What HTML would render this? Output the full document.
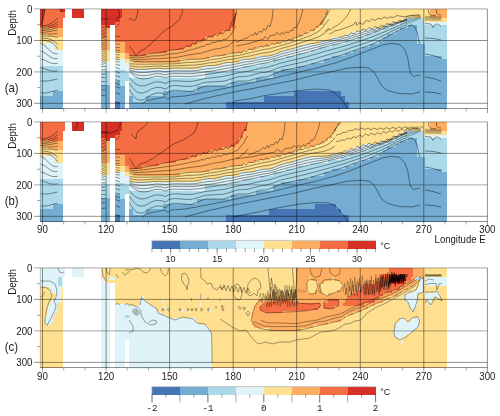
<!DOCTYPE html>
<html lang="en"><head><meta charset="utf-8"><title>Temperature sections</title>
<style>html,body{margin:0;padding:0;background:#fff}svg{display:block}</style></head>
<body>
<svg width="500" height="416" viewBox="0 0 500 416" font-family="'Liberation Sans', sans-serif" font-size="9.7" fill="#1a1a1a">
<rect width="500" height="416" fill="#fff"/>
<g shape-rendering="crispEdges">
<rect x="129" y="9" width="317.6" height="99.5" fill="#f46d43"/>
<path d="M129 108.5V56.2H145.9V53H167.1V49.9H184V46.7H192.4V43.6H196.7V40.5H205.1V37.3H213.6V34.2H222.1V31H230.5V27.9H234.7V9H446.6V108.5Z" fill="#fdae61"/>
<path d="M129 108.5V59.3H133.2V62.5H179.8V59.3H209.4V56.2H226.3V53H243.2V49.9H255.9V46.7H268.6V43.6H281.3V40.5H294V37.3H302.4V34.2H306.7V31H315.1V27.9H319.3V24.7H323.6V15.3H327.8V9H446.6V108.5Z" fill="#fee090"/>
<path d="M129 108.5V68.8H200.9V65.6H222.1V62.5H239V59.3H255.9V56.2H272.8V53H281.3V49.9H294V46.7H302.4V43.6H319.3V40.5H332V37.3H344.7V34.2H353.2V31H365.9V27.9H382.8V24.7H391.3V21.6H403.9V18.4H446.6V108.5Z" fill="#e0f3f8"/>
<path d="M129 108.5V77.5H205.1V72.3H230.5V68.8H243.2V65.6H260.1V62.5H272.8V59.3H285.5V56.2H298.2V53H310.9V49.9H319.3V46.7H332V43.6H344.7V40.5H357.4V37.3H365.9V34.2H374.3V31H382.8V27.9H391.3V24.7H399.7V21.6H403.9V18.4H446.6V108.5Z" fill="#abd9e9"/>
<path d="M129 108.5V96H133.2V101.5H145.9V96H162.8V91H196.7V86H230.5V81.5H255.9V77.5H272.8V72.3H281.3V68.8H298.2V65.6H310.9V62.5H323.6V59.3H332V56.2H344.7V53H353.2V49.9H361.6V46.7H370.1V43.6H378.6V40.5H382.8V37.3H387V34.2H395.5V31H399.7V27.9H408.2V24.7H416.6V43.6H425.1V56.2H442V59.3H446.6V108.5Z" fill="#74add1"/>
<path d="M129 108.5V108.5H226.3V101.5H264.4V96H294V91H340.5V96H344.7V101.5H349V108.5H446.6V108.5Z" fill="#4575b4"/>
<rect x="424" y="9" width="22.6" height="9.4" fill="#fee090"/>
<rect x="430" y="9" width="16.6" height="9.4" fill="#fdae61"/>
<rect x="424" y="18.4" width="22.6" height="3.2" fill="#fee090"/>
<rect x="424" y="21.6" width="22.6" height="2.9" fill="#e0f3f8"/>
<rect x="40.4" y="9" width="7.6" height="18.4" fill="#f46d43"/>
<rect x="40.4" y="27.4" width="7.6" height="6.8" fill="#fdae61"/>
<rect x="40.4" y="34.2" width="7.6" height="8.3" fill="#fee090"/>
<rect x="40.4" y="42.5" width="7.6" height="23.5" fill="#e0f3f8"/>
<rect x="40.4" y="66" width="7.6" height="29.7" fill="#abd9e9"/>
<rect x="40.4" y="95.7" width="7.6" height="12.8" fill="#74add1"/>
<rect x="48" y="9" width="5.3" height="18.9" fill="#f46d43"/>
<rect x="48" y="27.9" width="5.3" height="7.6" fill="#fdae61"/>
<rect x="48" y="35.5" width="5.3" height="7" fill="#fee090"/>
<rect x="48" y="42.5" width="5.3" height="23.5" fill="#e0f3f8"/>
<rect x="48" y="66" width="5.3" height="29.7" fill="#abd9e9"/>
<rect x="48" y="95.7" width="5.3" height="12.8" fill="#74add1"/>
<rect x="53.3" y="9" width="1.9" height="18.9" fill="#f46d43"/>
<rect x="53.3" y="27.9" width="1.9" height="7.6" fill="#fdae61"/>
<rect x="53.3" y="35.5" width="1.9" height="7" fill="#fee090"/>
<rect x="53.3" y="42.5" width="1.9" height="23.5" fill="#e0f3f8"/>
<rect x="53.3" y="66" width="1.9" height="24.7" fill="#abd9e9"/>
<rect x="53.3" y="90.7" width="1.9" height="17.8" fill="#74add1"/>
<rect x="55.2" y="9" width="7.4" height="18.7" fill="#f46d43"/>
<rect x="55.2" y="27.7" width="7.4" height="9.1" fill="#fdae61"/>
<rect x="55.2" y="36.8" width="7.4" height="12.9" fill="#fee090"/>
<rect x="55.2" y="49.7" width="7.4" height="16.3" fill="#e0f3f8"/>
<rect x="55.2" y="66" width="7.4" height="24.7" fill="#abd9e9"/>
<rect x="55.2" y="90.7" width="7.4" height="17.8" fill="#74add1"/>
<rect x="62.6" y="9" width="2.3" height="9.3" fill="#f46d43"/>
<rect x="59.7" y="9" width="5.2" height="3" fill="#d73027"/>
<path d="M40.4 9H45.8L43.4 17L42.2 25L40.4 28Z" fill="#d73027" shape-rendering="auto"/>
<rect x="72" y="9" width="12" height="9.4" fill="#d73027"/>
<rect x="100.7" y="9" width="5.3" height="15.5" fill="#d73027"/>
<rect x="100.7" y="24.5" width="5.3" height="12.5" fill="#f46d43"/>
<rect x="100.7" y="37" width="5.3" height="13" fill="#fdae61"/>
<rect x="100.7" y="50" width="5.3" height="11.8" fill="#fee090"/>
<rect x="100.7" y="61.8" width="5.3" height="9.4" fill="#e0f3f8"/>
<rect x="100.7" y="71.2" width="5.3" height="13.8" fill="#abd9e9"/>
<rect x="100.7" y="85" width="5.3" height="23.5" fill="#74add1"/>
<rect x="106" y="9" width="4.2" height="18.7" fill="#d73027"/>
<rect x="106" y="27.7" width="4.2" height="22.3" fill="#fdae61"/>
<rect x="106" y="50" width="4.2" height="11.8" fill="#fee090"/>
<rect x="106" y="61.8" width="4.2" height="9.4" fill="#e0f3f8"/>
<rect x="106" y="71.2" width="4.2" height="13.8" fill="#abd9e9"/>
<rect x="106" y="85" width="4.2" height="23.5" fill="#74add1"/>
<rect x="110.2" y="9" width="4.8" height="15.7" fill="#d73027"/>
<rect x="115" y="9" width="4.5" height="12.6" fill="#d73027"/>
<rect x="115" y="21.6" width="4.5" height="20.4" fill="#f46d43"/>
<rect x="115" y="42" width="4.5" height="10" fill="#fdae61"/>
<rect x="115" y="52" width="4.5" height="8" fill="#fee090"/>
<rect x="115" y="60" width="4.5" height="10" fill="#e0f3f8"/>
<rect x="115" y="70" width="4.5" height="11" fill="#abd9e9"/>
<rect x="115" y="81" width="4.5" height="21" fill="#74add1"/>
<rect x="115" y="102" width="4.5" height="6.5" fill="#4575b4"/>
<rect x="119.5" y="9" width="2.5" height="9.4" fill="#d73027"/>
<rect x="119.5" y="18.4" width="2.5" height="23.6" fill="#f46d43"/>
<rect x="119.5" y="42" width="2.5" height="10.5" fill="#fdae61"/>
<rect x="119.5" y="52.5" width="2.5" height="6.5" fill="#fee090"/>
<rect x="119.5" y="59" width="2.5" height="11" fill="#e0f3f8"/>
<rect x="119.5" y="70" width="2.5" height="16" fill="#abd9e9"/>
<rect x="119.5" y="86" width="2.5" height="22.5" fill="#74add1"/>
<rect x="122" y="9" width="2.5" height="33" fill="#f46d43"/>
<rect x="122" y="42" width="2.5" height="10.5" fill="#fdae61"/>
<rect x="122" y="52.5" width="2.5" height="6.5" fill="#fee090"/>
<rect x="122" y="59" width="2.5" height="11" fill="#e0f3f8"/>
<rect x="122" y="70" width="2.5" height="16" fill="#abd9e9"/>
<rect x="122" y="86" width="2.5" height="22.5" fill="#74add1"/>
<rect x="120" y="9" width="2" height="9.4" fill="#d73027"/>
<rect x="124.5" y="9" width="4.5" height="43.5" fill="#f46d43"/>
<rect x="124.5" y="52.5" width="4.5" height="6.5" fill="#fdae61"/>
<rect x="124.5" y="59" width="4.5" height="3.5" fill="#fee090"/>
<rect x="124.5" y="62.5" width="4.5" height="9.5" fill="#e0f3f8"/>
<rect x="124.5" y="72" width="4.5" height="9" fill="#abd9e9"/>
</g>
<g fill="none" stroke="#000" stroke-width=".5" stroke-opacity=".85" stroke-linejoin="round">
<path d="M129.5 55.7L131 55.8L132.5 55.9L134 55.9L135.5 56L137 56L138.5 56.1L140 55.9L141.5 55.6L143 55.2L144.5 54.9L146 54.5L147.5 54.2L149 53.8L150.5 53.5L152 53.2L153.5 53L155 53L156.5 53L158 53L159.5 52.7L161 52.4L162.5 52.1L164 51.7L165.5 51.4L167 51L168.5 50.7L170 50.3L171.5 50L173 49.9L174.5 49.9L176 49.7L177.5 49.4L179 49.1L180.5 48.5L182 48.2L183.5 48.3L185 47.5L186.5 46L188 46L189.5 46.5L191 45L192.5 43.5L194 44.3L195.5 44.1L197 41.9L198.5 41.3L200 42.2L201.5 41.2L203 39L204.5 38.9L206 39.8L207.5 38.1L209 36.1L210.5 36.9L212 37.4L213.5 35.3L215 34.2L216.5 35.3L218 35.2L219.5 33.2L221 32.8L222.5 33.8L224 32.8L225.5 30.5L227 30.5L228.5 30.7L230 27.1L231.5 22.2L233 20.1L234.5 17.6L236 12.7L233 26L235 20L236.8 9.2"/>
<path d="M129.5 57.4L131 57.5L132.5 57.6L134 57.7L135.5 57.8L137 57.9L138.5 57.9L140 57.9L141.5 57.6L143 57.4L144.5 57.2L146 56.9L147.5 56.7L149 56.5L150.5 56.2L152 56L153.5 55.9L155 55.9L156.5 55.9L158 55.9L159.5 55.7L161 55.5L162.5 55.2L164 55L165.5 54.8L167 54.5L168.5 54.3L170 54.1L171.5 53.8L173 53.8L174.5 53.7L176 53.6L177.5 53.3L179 52.9L180.5 52.6L182 52.3L183.5 52L185 51.6L186.5 51L188 50.5L189.5 50.1L191 49.9L192.5 49.5L194 49L195.5 48.4L197 48L198.5 48L200 47.3L201.5 46.4L203 46.3L204.5 46.1L206 44.9L207.5 44.1L209 44.4L210.5 44L212 42.5L213.5 42.2L215 42.7L216.5 42.1L218 40.9L219.5 41.2L221 41.6L222.5 40.3L224 39.2L225.5 39.4L227 39.1L228.5 37.3L230 35.4L231.5 33.8L233 31.3L234.5 28.1L236 26.1"/>
<path d="M129.5 59L131 59.1L132.5 59.3L134 59.4L135.5 59.6L137 59.7L138.5 59.8L140 59.8L141.5 59.7L143 59.6L144.5 59.4L146 59.3L147.5 59.2L149 59.1L150.5 59L152 58.8L153.5 58.8L155 58.8L156.5 58.8L158 58.8L159.5 58.7L161 58.5L162.5 58.4L164 58.3L165.5 58.2L167 58L168.5 57.9L170 57.8L171.5 57.7L173 57.6L174.5 57.6L176 57.4L177.5 57.1L179 56.9L180.5 56.6L182 56.3L183.5 56L185 55.7L186.5 55.4L188 55L189.5 54.7L191 54.6L192.5 54.4L194 54.1L195.5 53.9L197 53.6L198.5 53.4L200 53.3L201.5 53L203 52.5L204.5 52L206 51.6L207.5 51.2L209 50.7L210.5 50.3L212 49.8L213.5 49.4L215 49.1L216.5 48.9L218 48.8L219.5 48.5L221 48.1L222.5 47.7L224 47.3L225.5 46.9L227 46.4L228.5 45.8L230 44.6L231.5 43.1L233 42.2L234.5 41L236 39.3"/>
<path d="M129.5 60.6L131 60.8L132.5 61L134 61.2L135.5 61.4L137 61.5L138.5 61.7L140 61.7L141.5 61.8L143 61.7L144.5 61.7L146 61.7L147.5 61.7L149 61.7L150.5 61.7L152 61.7L153.5 61.7L155 61.6L156.5 61.6L158 61.6L159.5 61.6L161 61.6L162.5 61.6L164 61.6L165.5 61.6L167 61.6L168.5 61.5L170 61.5L171.5 61.5L173 61.5L174.5 61.4L176 61.2L177.5 61L179 60.8L180.5 60.6L182 60.3L183.5 60.1L185 59.9L186.5 59.7L188 59.5L189.5 59.4L191 59.3L192.5 59.3L194 59.3L195.5 59.2L197 59.2L198.5 59.2L200 59.2L201.5 59.1L203 58.8L204.5 58.4L206 58.1L207.5 57.7L209 57.4L210.5 57L212 56.7L213.5 56.3L215 56L216.5 56L218 56L219.5 55.8L221 55.5L222.5 55.2L224 54.8L225.5 54.5L227 54.1L228.5 53.9L230 53.7L231.5 53.1L233 52.8L234.5 53.2L236 53.1L237.5 52.4L239 52.3L240.5 52.8L242 52.1L243.5 50.8L245 51.1L246.5 51.6L248 50.1L249.5 49L251 49.5L252.5 49.5L254 48.2L255.5 47.6L257 48.2L258.5 47.8L260 46.5L261.5 46.5L263 47.1L264.5 46.2L266 44.9L267.5 45.4L269 45.9L270.5 44.6L272 43.7L273.5 44.3L275 44.3L276.5 43L278 42.6L279.5 43.3L281 42.7L282.5 41.3L284 41.4L285.5 41.9L287 40.8L288.5 39.3L290 39.8L291.5 40L293 38.5L294.5 37.5L296 37.9L297.5 37.5L299 35.9L300.5 35.4L302 35.7L303.5 34.8L305 33.1L306.5 33L308 33.3L309.5 31.7L311 30.2L312.5 30.3L314 30L315.5 28L317 26.4L318.5 26.1L320 24.5L321.5 21.7L323 19.8L324.5 17.7L326 14.3L327.5 10.5"/>
<path d="M129.5 63.7L131 63.8L132.5 63.9L134 64L135.5 64.1L137 64.2L138.5 64.2L140 64.2L141.5 64.2L143 64.2L144.5 64.2L146 64.2L147.5 64.2L149 64.1L150.5 64.1L152 64.1L153.5 64.1L155 64.1L156.5 64L158 64L159.5 64L161 64L162.5 64L164 64L165.5 63.9L167 63.9L168.5 63.9L170 63.9L171.5 63.9L173 63.8L174.5 63.8L176 63.7L177.5 63.5L179 63.3L180.5 63.2L182 63L183.5 62.8L185 62.7L186.5 62.5L188 62.4L189.5 62.3L191 62.3L192.5 62.3L194 62.2L195.5 62.2L197 62L198.5 61.9L200 61.8L201.5 61.7L203 61.4L204.5 61L206 60.7L207.5 60.4L209 60.1L210.5 59.9L212 59.6L213.5 59.4L215 59.1L216.5 59L218 58.9L219.5 58.6L221 58.3L222.5 58L224 57.6L225.5 57.3L227 57L228.5 56.7L230 56.5L231.5 56.3L233 56.1L234.5 55.9L236 55.8L237.5 55.5L239 55.3L240.5 55L242 54.6L243.5 54.3L245 53.9L246.5 53.6L248 53.2L249.5 52.9L251 52.5L252.5 52.2L254 51.8L255.5 51.4L257 51.1L258.5 50.7L260 50.4L261.5 50L263 49.7L264.5 49.4L266 49.2L267.5 49L269 48.7L270.5 48.3L272 48L273.5 47.6L275 47.2L276.5 46.8L278 46.4L279.5 45.9L281 45.5L282.5 45.1L284 44.7L285.5 44.2L287 43.8L288.5 43.4L290 42.9L291.5 42.4L293 41.9L294.5 41.4L296 40.9L297.5 40.4L299 39.9L300.5 39.3L302 38.8L303.5 38.2L305 37.6L306.5 37L308 36.4L309.5 35.9L311 35.3L312.5 34.6L314 33.9L315.5 33.1L317 32.2L318.5 31.2L320 30.1L321.5 28.7L323 27.2L324.5 25L326 23L327.5 21L329 19.2"/>
<path d="M129.5 65.6L131 66L132.5 66.3L134 66.5L135.5 66.7L137 66.8L138.5 66.8L140 66.9L141.5 66.9L143 66.8L144.5 66.8L146 66.7L147.5 66.7L149 66.6L150.5 66.4L152 66.3L153.5 66.2L155 66.1L156.5 66.1L158 66.1L159.5 66.1L161 66.1L162.5 66.3L164 66.4L165.5 66.5L167 66.3L168.5 66.2L170 66.1L171.5 66L173 65.9L174.5 65.9L176 65.8L177.5 65.8L179 65.7L180.5 65.6L182 65.5L183.5 65.5L185 65.4L186.5 65.3L188 65.2L189.5 65.2L191 65.2L192.5 65.2L194 65.1L195.5 65L197 64.8L198.5 64.6L200 64.5L201.5 64.3L203 64L204.5 63.7L206 63.4L207.5 63.1L209 62.9L210.5 62.7L212 62.6L213.5 62.5L215 62.2L216.5 62L218 61.7L219.5 61.5L221 61.1L222.5 60.8L224 60.4L225.5 60.1L227 59.8L228.5 59.6L230 59.5L231.5 59.3L233 59.1L234.5 58.9L236 58.6L237.5 58.3L239 58L240.5 57.7L242 57.4L243.5 57L245 56.7L246.5 56.4L248 56.3L249.5 56.1L251 55.8L252.5 55.4L254 55L255.5 54.7L257 54.3L258.5 54L260 53.7L261.5 53.3L263 53L264.5 52.8L266 52.7L267.5 52.6L269 52.3L270.5 51.9L272 51.5L273.5 51.1L275 50.7L276.5 50.2L278 49.7L279.5 49.1L281 48.6L282.5 48.1L284 47.7L285.5 47.3L287 46.9L288.5 46.5L290 46.1L291.5 45.6L293 45.2L294.5 44.7L296 44.3L297.5 43.8L299 43.3L300.5 42.8L302 42.3L303.5 41.9L305 41.4L306.5 40.9L308 40.4L309.5 40L311 39.5L312.5 39.1L314 38.5L315.5 38L317 37.4L318.5 36.8L320 36L321.5 35.2L323 34.3L324.5 33L326 31.8L327.5 30.7L329 29.6"/>
<path d="M129.5 67.9L131 68.4L132.5 68.8L134 69.1L135.5 69.3L137 69.4L138.5 69.4L140 69.4L141.5 69.4L143 69.4L144.5 69.3L146 69.3L147.5 69.2L149 69L150.5 68.8L152 68.7L153.5 68.5L155 68.3L156.5 68.3L158 68.3L159.5 68.3L161 68.4L162.5 68.6L164 68.8L165.5 68.9L167 68.7L168.5 68.5L170 68.3L171.5 68.3L173 68.2L174.5 68.1L176 68.1L177.5 68.1L179 68.1L180.5 68.1L182 68.1L183.5 68.1L185 68.1L186.5 68.1L188 68.1L189.5 68.1L191 68.1L192.5 68.1L194 68.1L195.5 67.9L197 67.6L198.5 67.4L200 67.1L201.5 66.8L203 66.5L204.5 66.3L206 66L207.5 65.7L209 65.6L210.5 65.6L212 65.6L213.5 65.5L215 65.3L216.5 65L218 64.6L219.5 64.3L221 63.9L222.5 63.6L224 63.2L225.5 62.9L227 62.6L228.5 62.5L230 62.5L231.5 62.4L233 62.2L234.5 61.8L236 61.5L237.5 61.1L239 60.8L240.5 60.4L242 60.1L243.5 59.7L245 59.4L246.5 59.3L248 59.3L249.5 59.2L251 59L252.5 58.7L254 58.3L255.5 58L257 57.6L258.5 57.3L260 56.9L261.5 56.6L263 56.3L264.5 56.2L266 56.2L267.5 56.1L269 55.9L270.5 55.5L272 55.1L273.5 54.7L275 54.1L276.5 53.6L278 53L279.5 52.3L281 51.7L282.5 51.2L284 50.8L285.5 50.4L287 50L288.5 49.6L290 49.2L291.5 48.9L293 48.5L294.5 48.1L296 47.6L297.5 47.2L299 46.8L300.5 46.4L302 45.9L303.5 45.5L305 45.2L306.5 44.8L308 44.4L309.5 44.1L311 43.8L312.5 43.5L314 43.2L315.5 42.9L317 42.6L318.5 42.3L320 42L321.5 41.7L323 41.4L324.5 41L326 40.7L327.5 40.3L329 40L330.5 39.6L332 39.2L333.5 38.7L335 38.6L336.5 38.4L338 37.6L339.5 37L341 37.2L342.5 37L344 35.9L345.5 35.1L347 35.5L348.5 35.4L350 33.9L351.5 32.9L353 33.7L354.5 33.7L356 31.8L357.5 30.8L359 31.8L360.5 31.8L362 29.9L363.5 29L365 30L366.5 30.1L368 28.3L369.5 27.6L371 28.7L372.5 28.9L374 27.3L375.5 26.5L377 27.6L378.5 27.8L380 26L381.5 25.2L383 26.2L384.5 26.2L386 24.3L387.5 23.4L389 24.3L390.5 24.4L392 22.6L393.5 21.7L395 22.8L396.5 22.9L398 21.1L399.5 20.3L401 21.4L402.5 21.5L404 19.7L405.5 18.9L407 20"/>
<path d="M129.5 69.3L131 70.1L132.5 70.8L134 71.3L135.5 71.8L137 72.1L138.5 72.3L140 72.4L141.5 72.6L143 72.5L144.5 72.5L146 72.4L147.5 72.3L149 72L150.5 71.8L152 71.6L153.5 71.3L155 71.1L156.5 71L158 71L159.5 71.1L161 71.1L162.5 71.4L164 71.7L165.5 71.9L167 71.6L168.5 71.3L170 71.1L171.5 71L173 70.9L174.5 70.8L176 70.8L177.5 70.8L179 70.8L180.5 70.8L182 70.9L183.5 70.9L185 70.9L186.5 70.9L188 70.9L189.5 70.9L191 70.9L192.5 70.8L194 70.8L195.5 70.6L197 70.4L198.5 70.1L200 69.9L201.5 69.6L203 69.4L204.5 69.1L206 68.9L207.5 68.6L209 68.4L210.5 68.4L212 68.3L213.5 68.2L215 67.9L216.5 67.6L218 67.3L219.5 67L221 66.6L222.5 66.3L224 66L225.5 65.7L227 65.4L228.5 65.2L230 65.1L231.5 65L233 64.7L234.5 64.4L236 64L237.5 63.7L239 63.3L240.5 63L242 62.6L243.5 62.3L245 62L246.5 61.8L248 61.7L249.5 61.5L251 61.3L252.5 61L254 60.6L255.5 60.3L257 60L258.5 59.6L260 59.3L261.5 59L263 58.7L264.5 58.5L266 58.4L267.5 58.2L269 58L270.5 57.6L272 57.2L273.5 56.8L275 56.3L276.5 55.8L278 55.3L279.5 54.7L281 54.2L282.5 53.7L284 53.3L285.5 52.9L287 52.5L288.5 52.1L290 51.7L291.5 51.4L293 51L294.5 50.6L296 50.2L297.5 49.8L299 49.4L300.5 48.9L302 48.5L303.5 48.1L305 47.8L306.5 47.4L308 47L309.5 46.6L311 46.3L312.5 45.9L314 45.6L315.5 45.2L317 44.9L318.5 44.5L320 44.2L321.5 43.8L323 43.5L324.5 43.1L326 42.7L327.5 42.4L329 42L330.5 41.6L332 41.2L333.5 40.9L335 40.5L336.5 40.1L338 39.8L339.5 39.4L341 39L342.5 38.6L344 38.1L345.5 37.7L347 37.3L348.5 36.8L350 36.3L351.5 35.8L353 35.3L354.5 34.9L356 34.6L357.5 34L359 33.2L360.5 33L362 32.9L363.5 32.1L365 31.2L366.5 31.2L368 31.3L369.5 30.4L371 29.4L372.5 29.6L374 30L375.5 29L377 27.8L378.5 28.1L380 28.5L381.5 27.4L383 26.1L384.5 26.3L386 26.6L387.5 25.4L389 24.1L390.5 24.4L392 24.7L393.5 23.6L395 22.3L396.5 22.6L398 23L399.5 21.8L401 20.6L402.5 20.8L404 21.2L405.5 20.2L407 19"/>
<path d="M129.5 70.7L131 71.8L132.5 72.7L134 73.5L135.5 74.2L137 74.8L138.5 75.1L140 75.4L141.5 75.7L143 75.7L144.5 75.6L146 75.5L147.5 75.4L149 75.1L150.5 74.8L152 74.5L153.5 74.1L155 73.8L156.5 73.6L158 73.7L159.5 73.8L161 73.9L162.5 74.2L164 74.6L165.5 74.9L167 74.5L168.5 74.1L170 73.8L171.5 73.7L173 73.6L174.5 73.5L176 73.4L177.5 73.5L179 73.5L180.5 73.6L182 73.6L183.5 73.7L185 73.7L186.5 73.7L188 73.7L189.5 73.7L191 73.6L192.5 73.6L194 73.5L195.5 73.3L197 73.1L198.5 72.9L200 72.7L201.5 72.5L203 72.2L204.5 72L206 71.7L207.5 71.5L209 71.3L210.5 71.1L212 71L213.5 70.8L215 70.5L216.5 70.2L218 69.9L219.5 69.7L221 69.4L222.5 69.1L224 68.8L225.5 68.5L227 68.2L228.5 68L230 67.8L231.5 67.6L233 67.3L234.5 66.9L236 66.6L237.5 66.3L239 65.9L240.5 65.6L242 65.2L243.5 64.9L245 64.6L246.5 64.3L248 64.1L249.5 63.8L251 63.6L252.5 63.2L254 62.9L255.5 62.6L257 62.3L258.5 62L260 61.6L261.5 61.3L263 61L264.5 60.8L266 60.6L267.5 60.4L269 60L270.5 59.7L272 59.3L273.5 58.9L275 58.5L276.5 58L278 57.6L279.5 57.1L281 56.6L282.5 56.2L284 55.8L285.5 55.4L287 55L288.5 54.6L290 54.3L291.5 53.9L293 53.5L294.5 53.1L296 52.7L297.5 52.3L299 51.9L300.5 51.5L302 51.1L303.5 50.7L305 50.3L306.5 49.9L308 49.5L309.5 49.1L311 48.7L312.5 48.3L314 47.9L315.5 47.5L317 47.1L318.5 46.7L320 46.3L321.5 45.9L323 45.5L324.5 45.2L326 44.8L327.5 44.4L329 44L330.5 43.6L332 43.2L333.5 42.9L335 42.5L336.5 42.1L338 41.8L339.5 41.4L341 41L342.5 40.6L344 40.2L345.5 39.7L347 39.3L348.5 38.9L350 38.4L351.5 37.9L353 37.5L354.5 37L356 36.6L357.5 36.1L359 35.6L360.5 35.2L362 34.7L363.5 34.2L365 33.7L366.5 33.2L368 32.8L369.5 32.3L371 31.8L372.5 31.3L374 30.9L375.5 30.4L377 30L378.5 29.5L380 29L381.5 28.5L383 28L384.5 27.5L386 26.9L387.5 26.4L389 25.9L390.5 25.4L392 24.8L393.5 24.3L395 23.8L396.5 23.3L398 22.8L399.5 22.3L401 21.8L402.5 21.3L404 20.8L405.5 20.4L407 20"/>
<path d="M129.5 72.1L131 73.4L132.5 74.7L134 75.6L135.5 76.7L137 77.4L138.5 78L140 78.5L141.5 78.8L143 78.8L144.5 78.8L146 78.7L147.5 78.5L149 78.1L150.5 77.7L152 77.3L153.5 77L155 76.6L156.5 76.3L158 76.4L159.5 76.5L161 76.6L162.5 77L164 77.5L165.5 77.9L167 77.4L168.5 76.9L170 76.6L171.5 76.4L173 76.3L174.5 76.1L176 76.1L177.5 76.2L179 76.3L180.5 76.3L182 76.4L183.5 76.5L185 76.6L186.5 76.6L188 76.5L189.5 76.5L191 76.4L192.5 76.3L194 76.2L195.5 76L197 75.9L198.5 75.7L200 75.5L201.5 75.3L203 75L204.5 74.8L206 74.6L207.5 74.4L209 74.1L210.5 73.9L212 73.6L213.5 73.4L215 73.1L216.5 72.9L218 72.6L219.5 72.3L221 72.1L222.5 71.8L224 71.5L225.5 71.3L227 71L228.5 70.7L230 70.4L231.5 70.1L233 69.8L234.5 69.5L236 69.2L237.5 68.8L239 68.5L240.5 68.1L242 67.8L243.5 67.5L245 67.1L246.5 66.8L248 66.5L249.5 66.1L251 65.8L252.5 65.5L254 65.2L255.5 64.9L257 64.6L258.5 64.3L260 64L261.5 63.7L263 63.4L264.5 63.1L266 62.8L267.5 62.5L269 62.1L270.5 61.8L272 61.4L273.5 61L275 60.7L276.5 60.3L278 59.9L279.5 59.5L281 59.1L282.5 58.7L284 58.3L285.5 57.9L287 57.5L288.5 57.1L290 56.8L291.5 56.4L293 56L294.5 55.6L296 55.2L297.5 54.9L299 54.5L300.5 54.1L302 53.7L303.5 53.3L305 52.9L306.5 52.5L308 52.1L309.5 51.6L311 51.2L312.5 50.8L314 50.3L315.5 49.8L317 49.4L318.5 48.9L320 48.5L321.5 48.1L323 47.6L324.5 47.2L326 46.8L327.5 46.4L329 46L330.5 45.6L332 45.2L333.5 44.9L335 44.5L336.5 44.1L338 43.8L339.5 43.4L341 43L342.5 42.6L344 42.2L345.5 41.8L347 41.4L348.5 40.9L350 40.5L351.5 40L353 39.6L354.5 39.1L356 38.7L357.5 38.2L359 37.8L360.5 37.3L362 36.9L363.5 36.3L365 35.8L366.5 35.3L368 34.8L369.5 34.2L371 33.6L372.5 33L374 32.5L375.5 31.9L377 31.3L378.5 30.8L380 30.2L381.5 29.7L383 29.2L384.5 28.6L386 28L387.5 27.5L389 26.9L390.5 26.3L392 25.7L393.5 25.1L395 24.6L396.5 24L398 23.4L399.5 22.8L401 22.2L402.5 21.6L404 21.1L405.5 20.7L407 20.2"/>
<path d="M129.5 77.7L131 79.5L132.5 81.2L134 82.5L135.5 83.8L137 84.7L138.5 85.2L140 85.7L141.5 86L143 85.9L144.5 85.6L146 85.3L147.5 84.9L149 84.2L150.5 83.6L152 83.1L153.5 82.6L155 82.1L156.5 81.8L158 81.9L159.5 82L161 82.1L162.5 82.6L164 83L165.5 83.5L167 82.8L168.5 81.9L170 81.4L171.5 81.2L173 81L174.5 80.8L176 80.8L177.5 80.9L179 81L180.5 81.1L182 81.2L183.5 81.3L185 81.4L186.5 81.4L188 81.5L189.5 81.5L191 81.4L192.5 81.2L194 81L195.5 80.7L197 80.4L198.5 80L200 79.7L201.5 79.4L203 79L204.5 78.6L206 78.4L207.5 78.2L209 78.1L210.5 77.9L212 77.8L213.5 77.6L215 77.4L216.5 77.2L218 77.1L219.5 76.9L221 76.7L222.5 76.5L224 76.4L225.5 76L227 75.6L228.5 75.3L230 74.9L231.5 74.5L233 74.1L234.5 73.7L236 73.3L237.5 72.9L239 72.7L240.5 72.4L242 72.2L243.5 72L245 71.8L246.5 71.5L248 71.3L249.5 71L251 70.6L252.5 70.2L254 69.9L255.5 69.5L257 69.2L258.5 68.8L260 68.5L261.5 68.1L263 67.9L264.5 67.7L266 67.5L267.5 67.2L269 66.8L270.5 66.3L272 65.9L273.5 65.5L275 65L276.5 64.5L278 64L279.5 63.4L281 63.1L282.5 62.7L284 62.3L285.5 61.9L287 61.6L288.5 61.2L290 60.8L291.5 60.5L293 60.1L294.5 59.8L296 59.4L297.5 59.1L299 58.7L300.5 58.4L302 58L303.5 57.6L305 57.2L306.5 56.8L308 56.4L309.5 56L311 55.5L312.5 55.1L314 54.6L315.5 54.2L317 53.7L318.5 53.3L320 52.8L321.5 52.4L323 52L324.5 51.5L326 51.1L327.5 50.7L329 50.3L330.5 49.9L332 49.5L333.5 49.1L335 48.7L336.5 48.3L338 47.9L339.5 47.5L341 47L342.5 46.6L344 46.2L345.5 45.7L347 45.3L348.5 44.8L350 44.3L351.5 43.8L353 43.4L354.5 42.9L356 42.4L357.5 41.9L359 41.5L360.5 41L362 40.5L363.5 40L365 39.5L366.5 39L368 38.4L369.5 37.9L371 37.3L372.5 36.7L374 36.1L375.5 35.5L377 34.9L378.5 34.3L380 33.7L381.5 33L383 32.4L384.5 31.8L386 31.1L387.5 30.5L389 29.8L390.5 29.1L392 28.4L393.5 27.8L395 27.1L396.5 26.4L398 25.8L399.5 25.1L401 24.5L402.5 23.9L404 23.3L405.5 22.8L407 22.4"/>
<path d="M129.5 83.2L131 85.6L132.5 87.7L134 89.3L135.5 90.9L137 92L138.5 92.5L140 92.9L141.5 93.3L143 92.9L144.5 92.4L146 91.9L147.5 91.3L149 90.3L150.5 89.4L152 88.8L153.5 88.3L155 87.7L156.5 87.3L158 87.4L159.5 87.5L161 87.5L162.5 88.1L164 88.6L165.5 89.1L167 88.1L168.5 86.9L170 86.3L171.5 86L173 85.7L174.5 85.5L176 85.5L177.5 85.6L179 85.8L180.5 85.9L182 86L183.5 86.2L185 86.3L186.5 86.3L188 86.4L189.5 86.4L191 86.4L192.5 86.2L194 85.7L195.5 85.3L197 84.9L198.5 84.4L200 84L201.5 83.4L203 82.9L204.5 82.5L206 82.2L207.5 82.1L209 82L210.5 82L212 81.9L213.5 81.8L215 81.7L216.5 81.6L218 81.5L219.5 81.4L221 81.4L222.5 81.3L224 81.2L225.5 80.7L227 80.3L228.5 79.8L230 79.3L231.5 78.9L233 78.4L234.5 77.9L236 77.4L237.5 76.9L239 76.8L240.5 76.7L242 76.6L243.5 76.5L245 76.4L246.5 76.3L248 76.2L249.5 75.8L251 75.4L252.5 75L254 74.6L255.5 74.2L257 73.8L258.5 73.4L260 73L261.5 72.6L263 72.5L264.5 72.4L266 72.3L267.5 71.8L269 71.4L270.5 70.9L272 70.4L273.5 69.9L275 69.3L276.5 68.7L278 68.1L279.5 67.4L281 67L282.5 66.7L284 66.3L285.5 65.9L287 65.6L288.5 65.3L290 64.9L291.5 64.6L293 64.3L294.5 63.9L296 63.6L297.5 63.3L299 63L300.5 62.6L302 62.3L303.5 61.9L305 61.5L306.5 61.1L308 60.7L309.5 60.3L311 59.9L312.5 59.4L314 59L315.5 58.5L317 58.1L318.5 57.6L320 57.2L321.5 56.7L323 56.3L324.5 55.8L326 55.4L327.5 55L329 54.5L330.5 54.1L332 53.7L333.5 53.3L335 52.8L336.5 52.4L338 52L339.5 51.6L341 51.1L342.5 50.7L344 50.2L345.5 49.7L347 49.2L348.5 48.7L350 48.2L351.5 47.6L353 47.1L354.5 46.6L356 46.1L357.5 45.6L359 45.2L360.5 44.7L362 44.2L363.5 43.7L365 43.2L366.5 42.6L368 42.1L369.5 41.5L371 40.9L372.5 40.3L374 39.7L375.5 39L377 38.4L378.5 37.7L380 37.1L381.5 36.4L383 35.7L384.5 34.9L386 34.2L387.5 33.4L389 32.7L390.5 31.9L392 31.1L393.5 30.4L395 29.6L396.5 28.9L398 28.2L399.5 27.5L401 26.8L402.5 26.1L404 25.5L405.5 25L407 24.5"/>
<path d="M129.5 89.6L131 92.3L132.5 94.7L134 96.5L135.5 98.2L137 99.4L138.5 99.7L140 100L141.5 100.3L143 99.8L144.5 99.1L146 98.4L147.5 97.6L149 96.4L150.5 95.2L152 94.6L153.5 94L155 93.4L156.5 92.9L158 93L159.5 93L161 93L162.5 93.6L164 94.1L165.5 94.7L167 93.4L168.5 91.9L170 91.1L171.5 90.8L173 90.4L174.5 90.2L176 90.2L177.5 90.3L179 90.5L180.5 90.7L182 90.8L183.5 91L185 91.1L186.5 91.2L188 91.3L189.5 91.4L191 91.4L192.5 91.1L194 90.5L195.5 89.9L197 89.4L198.5 88.8L200 88.2L201.5 87.5L203 86.9L204.5 86.3L206 86L207.5 86L209 86L210.5 86L212 86L213.5 86L215 86L216.5 86L218 86L219.5 86L221 86L222.5 86L224 86L225.5 85.4L227 84.9L228.5 84.3L230 83.8L231.5 83.2L233 82.7L234.5 82.1L236 81.6L237.5 81L239 81L240.5 81L242 81L243.5 81L245 81L246.5 81L248 81L249.5 80.6L251 80.1L252.5 79.7L254 79.2L255.5 78.8L257 78.3L258.5 77.9L260 77.4L261.5 77L263 77L264.5 77L266 77L267.5 76.5L269 76L270.5 75.5L272 74.9L273.5 74.3L275 73.6L276.5 72.9L278 72.2L279.5 71.4L281 71L282.5 70.7L284 70.3L285.5 70L287 69.6L288.5 69.3L290 69L291.5 68.7L293 68.4L294.5 68.1L296 67.8L297.5 67.5L299 67.2L300.5 66.9L302 66.5L303.5 66.2L305 65.8L306.5 65.5L308 65L309.5 64.6L311 64.2L312.5 63.7L314 63.3L315.5 62.8L317 62.4L318.5 61.9L320 61.5L321.5 61L323 60.6L324.5 60.1L326 59.7L327.5 59.2L329 58.8L330.5 58.3L332 57.9L333.5 57.4L335 57L336.5 56.5L338 56.1L339.5 55.6L341 55.2L342.5 54.7L344 54.2L345.5 53.7L347 53.1L348.5 52.6L350 52L351.5 51.4L353 50.9L354.5 50.3L356 49.8L357.5 49.3L359 48.8L360.5 48.3L362 47.8L363.5 47.4L365 46.8L366.5 46.3L368 45.8L369.5 45.2L371 44.6L372.5 43.9L374 43.3L375.5 42.6L377 41.9L378.5 41.2L380 40.5L381.5 39.7L383 38.9L384.5 38.1L386 37.3L387.5 36.4L389 35.6L390.5 34.7L392 33.8L393.5 33L395 32.2L396.5 31.3L398 30.5L399.5 29.8L401 29.1L402.5 28.4L404 27.7L405.5 27.1L407 26.6L408.5 26L410 25.5L411.5 25"/>
<path d="M273.1 9.2L272.1 19L270 26.7L267.9 25.3L265.8 30.2L263.7 28.8L261.6 32.3L259.5 31L256.7 35.1L255.3 32.3L253.2 35.8L251.1 34.4L247.6 37.9L244.1 38.6L242 40L236.4 42.1"/>
<path d="M302.9 9.2L301.2 16.2L299.1 21.8L296.3 27.4L293.8 27.4L292.4 30.9L290.3 30.2L288.2 33L286.1 31.6L284 34.4L281.9 32.3L279.8 35.1L277 32.3L274.9 35.1L272.8 35.1L270 35.8L267.9 39.3L265.1 36.5L263 39.3L260.2 40L256 41.4L253.2 42.1L249 43.5L242 44.9L236.4 46"/>
<path d="M350.9 9.2L347.4 15.5L343.2 20.4L337.6 25.3L333.4 27.4L330.6 29.5L327.8 28.8L325 31.6"/>
<path d="M419.4 14.8L411 15.5L404 16.9L397 15.5L393.5 17.5L390 16.9L387 18.5L384.4 16.9L381 19L378.1 18.3L375 20.5L371.8 19L369 21.5L366.2 20.4L363 24.5L359.2 22.5L357 25.5L355.8 21.8L353.7 24.6L348.8 26.7L344.6 28.1L339 30.2L334.8 30.9L332 33L329 34"/>
<path d="M183 9L181.5 15L179 20L175 23.5L171 27L167 29L163 32L159 36L155 40L152 42.5L149 46L147 47L145 49L140 51L136 56L133 51L129.5 45.5"/>
<path d="M138 9L137.3 14L136 19L134 21L131.5 18.5L129 19.5"/>
<path d="M320.1 25.3L324.3 19.7L327.1 14.8L329.9 9.2"/>
<path d="M143 104L145 101L155 99L165 97L168 99.5L171 97L185 96L207 92L229 87.5L255 82L275 78L295 73L315 68.5L335 63L350.4 57.7L370.9 49.5L383.2 44.8L391.3 43.4L399.5 44.4L404.6 49.5L407.7 57.7L409.3 68L410.8 74L413.8 76.5L420 75"/>
<path d="M185 104L207 98L229 93L255 88L275 84L295 80L315 75L335 71L346.4 68.3L360.7 67.3L368.9 68L374 72L378 79L381 85.3L387.3 90.4L399.5 93.5L411.8 94L420 91.8"/>
<path d="M232 103L235.6 100.8L251 98.6L262 96L275 94L295 91L315 89L329 90L335 93L343 101L347 108"/>
<path d="M411 24.6L415.2 27.4L417.3 33L418.7 40L420 44.2"/>
<path d="M425 38L433 38.4L441 40"/>
<path d="M425 54L433 55.4L441 58"/>
<path d="M425 77L433 78.4L441 81"/>
<path d="M425 92L433 92.4L441 94"/>
<g stroke-opacity=".5">
<path d="M425 16.3L433 16.6L441.5 16.8"/>
<path d="M425 17.2L433 17.5L441.5 17.7"/>
<path d="M425 18.1L433 18.4L441.5 18.6"/>
<path d="M425 19L433 19.3L441.5 19.5"/>
<path d="M425 19.9L433 20.2L441.5 20.4"/>
<path d="M406 16.5L413 15.3L420.5 15.6"/>
<path d="M406 18L413 16.6L420.5 16.1"/>
<path d="M406 19.5L413 17.8L420.5 16.6"/>
<path d="M406 21L413 19.1L420.5 17.1"/>
<path d="M406 22.5L413 20.3L420.5 17.6"/>
<path d="M406 24L413 21.6L420.5 18.1"/>
</g>
<path d="M425 23.5L431 24L433 27.5L435.5 24.2L438 24L441 26.5"/>
<path d="M428.3 9.2L428.8 13L430.5 15.2L436 15.8"/>
<path d="M436.3 9.2L436.6 13L438.5 14.6L441 15"/>
<path d="M41.2 26.2Q52 25.2 57.7 18"/>
<path d="M41.2 27.8Q52 26.8 57.7 21.8"/>
<path d="M41.2 29.4Q52 28.4 57.7 24.7"/>
<path d="M41.2 31Q52 30 57.7 27.6"/>
<path d="M41.2 32.6Q52 31.6 57.7 30"/>
<path d="M41.2 34.2C50 34.2 54 33.9 57.7 33.4"/>
<path d="M41.2 36C50 36 54 36.5 57.7 37.2"/>
<path d="M41.2 38C50 38 54 40.6 57.7 44.4"/>
<path d="M41.2 40.1C50 40.1 54 43.6 57.7 48.8"/>
<path d="M40.8 43.5C47 44.5 50 55.1 57.6 53.6"/>
<path d="M40.8 51.2C47 52.2 50 60 57.6 58.5"/>
<path d="M40.8 59C47 60 50 64.9 57.6 63.4"/>
<path d="M40.8 67.7C47 68.7 50 72.3 57.6 70.8"/>
<path d="M40.8 80.7C47 81.7 50 80.5 57.6 79"/>
<path d="M40.8 92.8C47 93.8 50 91.7 57.6 90.2"/>
<path d="M44.6 9.2L44.2 14L43 19.5L41.5 24.5"/>
<path d="M59.5 9.2L61 10.8L63 11.8"/>
<path d="M101.5 28L105.3 26.2"/>
<path d="M101.5 31.3L105.3 29.5"/>
<path d="M101.5 34.6L105.3 32.8"/>
<path d="M101.5 37.9L105.3 36.1"/>
<path d="M101.5 39L105.3 37.2"/>
<path d="M101.5 41.1L105.3 39.4"/>
<path d="M101.5 43.3L105.3 41.5"/>
<path d="M101.5 45.4L105.3 43.6"/>
<path d="M101.5 47.6L105.3 45.8"/>
<path d="M101.5 49.7L105.3 47.9"/>
<path d="M101.5 51.9L105.3 50.1"/>
<path d="M101.5 54L105.3 52.2"/>
<path d="M101.5 56.2L105.3 54.4"/>
<path d="M101.5 58.3L105.3 56.5"/>
<path d="M101.5 60.5L105.3 58.7"/>
<path d="M101.5 62.6L105.3 60.8"/>
<path d="M101.5 64.8L105.3 63"/>
<path d="M101.3 66.6L105.5 66.4"/>
<path d="M101.3 70L105.5 69.8"/>
<path d="M101.3 74.2L105.5 74"/>
<path d="M101.3 77.6L105.5 77.4"/>
<path d="M101.3 81.7L105.5 81.5"/>
<path d="M101.3 85.8L105.5 85.6"/>
<path d="M101.3 90L105.5 89.8"/>
<path d="M101.3 95.4L105.5 95.2"/>
<path d="M100.8 18.9L110 18.9"/>
<path d="M115.6 36.3L119.8 36.5"/>
<path d="M115.6 44L119.8 44.2"/>
<path d="M115.6 47.5L119.8 47.7"/>
<path d="M115.6 50L119.8 50.5"/>
<path d="M115.6 52L119.8 52.5"/>
<path d="M115.6 54.5L119.8 55"/>
<path d="M115.6 57L119.8 57.5"/>
<path d="M115.6 59.2L119.8 59.7"/>
<path d="M115.6 61.5L119.8 62"/>
<path d="M115.4 64L120 65.5"/>
<path d="M115.4 67.4L120 68.9"/>
<path d="M115.4 71.5L120 73"/>
<path d="M115.4 75.6L120 77.1"/>
<path d="M115.4 79.7L120 81.2"/>
<path d="M115.4 83.2L120 84.7"/>
<path d="M115.4 86.6L120 88.1"/>
<path d="M115.4 92.8L120 94.3"/>
<path d="M115.4 101.7L120 103.2"/>
<path d="M117.8 9.2L119.6 12.5L119.2 17L115.2 19.5"/>
<path d="M115.2 27.5L119.8 23.5"/>
</g>
<line x1="34" x2="487.4" y1="8.8" y2="8.8" stroke="#000" stroke-opacity=".28" stroke-width="1.2"/>
<line x1="34" x2="487.4" y1="40.5" y2="40.5" stroke="#000" stroke-opacity=".62" stroke-width=".7"/>
<line x1="34" x2="487.4" y1="71.9" y2="71.9" stroke="#000" stroke-opacity=".28" stroke-width="1.2"/>
<line x1="34" x2="487.4" y1="103.3" y2="103.3" stroke="#000" stroke-opacity=".62" stroke-width=".7"/>
<line x1="37" x2="40.3" y1="24.7" y2="24.7" stroke="#000" stroke-opacity=".6" stroke-width=".6"/>
<line x1="37" x2="40.3" y1="56.2" y2="56.2" stroke="#000" stroke-opacity=".6" stroke-width=".6"/>
<line x1="37" x2="40.3" y1="87.6" y2="87.6" stroke="#000" stroke-opacity=".6" stroke-width=".6"/>
<path d="M40.3 9V108.5" fill="none" stroke="#000" stroke-opacity=".3" stroke-width=".7"/>
<path d="M40.3 108.5H487.4M487.4 9V113.1" fill="none" stroke="#000" stroke-opacity=".62" stroke-width=".7"/>
<line x1="42.5" x2="42.5" y1="9" y2="111.1" stroke="#000" stroke-opacity=".62" stroke-width=".7"/>
<line x1="42.5" x2="42.5" y1="111.1" y2="113.3" stroke="#000" stroke-opacity=".32" stroke-width=".8"/>
<line x1="106.1" x2="106.1" y1="9" y2="111.1" stroke="#000" stroke-opacity=".62" stroke-width=".7"/>
<line x1="106.1" x2="106.1" y1="111.1" y2="113.3" stroke="#000" stroke-opacity=".32" stroke-width=".8"/>
<line x1="169.6" x2="169.6" y1="9" y2="111.1" stroke="#000" stroke-opacity=".62" stroke-width=".7"/>
<line x1="169.6" x2="169.6" y1="111.1" y2="113.3" stroke="#000" stroke-opacity=".32" stroke-width=".8"/>
<line x1="233.2" x2="233.2" y1="9" y2="111.1" stroke="#000" stroke-opacity=".62" stroke-width=".7"/>
<line x1="233.2" x2="233.2" y1="111.1" y2="113.3" stroke="#000" stroke-opacity=".32" stroke-width=".8"/>
<line x1="296.7" x2="296.7" y1="9" y2="111.1" stroke="#000" stroke-opacity=".62" stroke-width=".7"/>
<line x1="296.7" x2="296.7" y1="111.1" y2="113.3" stroke="#000" stroke-opacity=".32" stroke-width=".8"/>
<line x1="360.3" x2="360.3" y1="9" y2="111.1" stroke="#000" stroke-opacity=".62" stroke-width=".7"/>
<line x1="360.3" x2="360.3" y1="111.1" y2="113.3" stroke="#000" stroke-opacity=".32" stroke-width=".8"/>
<line x1="423.8" x2="423.8" y1="9" y2="111.1" stroke="#000" stroke-opacity=".62" stroke-width=".7"/>
<line x1="423.8" x2="423.8" y1="111.1" y2="113.3" stroke="#000" stroke-opacity=".32" stroke-width=".8"/>
<line x1="63.7" x2="63.7" y1="108.5" y2="111.5" stroke="#000" stroke-opacity=".6" stroke-width=".6"/>
<line x1="84.9" x2="84.9" y1="108.5" y2="111.5" stroke="#000" stroke-opacity=".6" stroke-width=".6"/>
<line x1="127.2" x2="127.2" y1="108.5" y2="111.5" stroke="#000" stroke-opacity=".6" stroke-width=".6"/>
<line x1="148.4" x2="148.4" y1="108.5" y2="111.5" stroke="#000" stroke-opacity=".6" stroke-width=".6"/>
<line x1="190.8" x2="190.8" y1="108.5" y2="111.5" stroke="#000" stroke-opacity=".6" stroke-width=".6"/>
<line x1="212" x2="212" y1="108.5" y2="111.5" stroke="#000" stroke-opacity=".6" stroke-width=".6"/>
<line x1="254.4" x2="254.4" y1="108.5" y2="111.5" stroke="#000" stroke-opacity=".6" stroke-width=".6"/>
<line x1="275.5" x2="275.5" y1="108.5" y2="111.5" stroke="#000" stroke-opacity=".6" stroke-width=".6"/>
<line x1="317.9" x2="317.9" y1="108.5" y2="111.5" stroke="#000" stroke-opacity=".6" stroke-width=".6"/>
<line x1="339.1" x2="339.1" y1="108.5" y2="111.5" stroke="#000" stroke-opacity=".6" stroke-width=".6"/>
<line x1="381.5" x2="381.5" y1="108.5" y2="111.5" stroke="#000" stroke-opacity=".6" stroke-width=".6"/>
<line x1="402.7" x2="402.7" y1="108.5" y2="111.5" stroke="#000" stroke-opacity=".6" stroke-width=".6"/>
<line x1="445" x2="445" y1="108.5" y2="111.5" stroke="#000" stroke-opacity=".6" stroke-width=".6"/>
<line x1="466.2" x2="466.2" y1="108.5" y2="111.5" stroke="#000" stroke-opacity=".6" stroke-width=".6"/>
<text transform="translate(32.5 12.6) scale(1 1.08)" text-anchor="end">0</text>
<text transform="translate(32.5 44.1) scale(1 1.08)" text-anchor="end">100</text>
<text transform="translate(32.5 75.5) scale(1 1.08)" text-anchor="end">200</text>
<text transform="translate(32.5 106.9) scale(1 1.08)" text-anchor="end">300</text>
<text transform="translate(16.4 10) rotate(-90) scale(1 1.08)" text-anchor="end">Depth</text>
<text transform="translate(4.8 92.2) scale(.96 1.1)" font-size="11.8">(a)</text>
<g shape-rendering="crispEdges">
<rect x="129" y="122" width="317.6" height="99.5" fill="#f46d43"/>
<path d="M129 221.5V169.2H141.7V166H158.6V162.9H175.5V159.7H188.2V156.6H196.7V153.5H209.4V150.3H222.1V147.2H234.7V144H239V137.7H243.2V131.4H247.4V122H446.6V221.5Z" fill="#fdae61"/>
<path d="M129 221.5V172.3H133.2V175.5H179.8V172.3H209.4V169.2H226.3V166H243.2V162.9H255.9V159.7H268.6V156.6H281.3V153.5H294V150.3H302.4V147.2H315.1V144H323.6V140.9H327.8V137.7H332V131.4H336.3V125.1H340.5V122H446.6V221.5Z" fill="#fee090"/>
<path d="M129 221.5V181.8H200.9V178.6H222.1V175.5H239V172.3H255.9V169.2H272.8V166H281.3V162.9H294V159.7H302.4V156.6H332V153.5H344.7V150.3H353.2V147.2H361.6V144H378.6V140.9H391.3V137.7H395.5V134.6H403.9V131.4H446.6V221.5Z" fill="#e0f3f8"/>
<path d="M129 221.5V190.5H205.1V185.3H230.5V181.8H243.2V178.6H260.1V175.5H272.8V172.3H285.5V169.2H298.2V166H310.9V162.9H327.8V159.7H340.5V156.6H349V153.5H361.6V150.3H370.1V147.2H378.6V144H387V140.9H395.5V137.7H399.7V134.6H403.9V131.4H446.6V221.5Z" fill="#abd9e9"/>
<path d="M129 221.5V209H133.2V214.5H145.9V209H162.8V204H196.7V199H230.5V194.5H255.9V190.5H272.8V185.3H281.3V181.8H298.2V178.6H310.9V175.5H323.6V172.3H332V169.2H344.7V166H353.2V162.9H361.6V159.7H370.1V156.6H378.6V153.5H382.8V150.3H387V147.2H395.5V144H399.7V140.9H408.2V137.7H416.6V156.6H425.1V169.2H442V172.3H446.6V221.5Z" fill="#74add1"/>
<path d="M129 221.5V221.5H226.3V214.5H268.6V209H315.1V204H336.3V209H340.5V214.5H349V221.5H446.6V221.5Z" fill="#4575b4"/>
<rect x="424" y="122" width="22.6" height="9.4" fill="#fee090"/>
<rect x="430" y="122" width="16.6" height="9.4" fill="#fdae61"/>
<rect x="424" y="131.4" width="22.6" height="3.2" fill="#fee090"/>
<rect x="424" y="134.6" width="22.6" height="2.9" fill="#e0f3f8"/>
<rect x="40.4" y="122" width="7.6" height="18.4" fill="#f46d43"/>
<rect x="40.4" y="140.4" width="7.6" height="6.8" fill="#fdae61"/>
<rect x="40.4" y="147.2" width="7.6" height="8.3" fill="#fee090"/>
<rect x="40.4" y="155.5" width="7.6" height="23.5" fill="#e0f3f8"/>
<rect x="40.4" y="179" width="7.6" height="29.7" fill="#abd9e9"/>
<rect x="40.4" y="208.7" width="7.6" height="12.8" fill="#74add1"/>
<rect x="48" y="122" width="5.3" height="18.9" fill="#f46d43"/>
<rect x="48" y="140.9" width="5.3" height="7.6" fill="#fdae61"/>
<rect x="48" y="148.5" width="5.3" height="7" fill="#fee090"/>
<rect x="48" y="155.5" width="5.3" height="23.5" fill="#e0f3f8"/>
<rect x="48" y="179" width="5.3" height="29.7" fill="#abd9e9"/>
<rect x="48" y="208.7" width="5.3" height="12.8" fill="#74add1"/>
<rect x="53.3" y="122" width="1.9" height="18.9" fill="#f46d43"/>
<rect x="53.3" y="140.9" width="1.9" height="7.6" fill="#fdae61"/>
<rect x="53.3" y="148.5" width="1.9" height="7" fill="#fee090"/>
<rect x="53.3" y="155.5" width="1.9" height="23.5" fill="#e0f3f8"/>
<rect x="53.3" y="179" width="1.9" height="24.7" fill="#abd9e9"/>
<rect x="53.3" y="203.7" width="1.9" height="17.8" fill="#74add1"/>
<rect x="55.2" y="122" width="7.4" height="18.7" fill="#f46d43"/>
<rect x="55.2" y="140.7" width="7.4" height="9.1" fill="#fdae61"/>
<rect x="55.2" y="149.8" width="7.4" height="12.9" fill="#fee090"/>
<rect x="55.2" y="162.7" width="7.4" height="16.3" fill="#e0f3f8"/>
<rect x="55.2" y="179" width="7.4" height="24.7" fill="#abd9e9"/>
<rect x="55.2" y="203.7" width="7.4" height="17.8" fill="#74add1"/>
<rect x="62.6" y="122" width="2.3" height="9.3" fill="#f46d43"/>
<rect x="72" y="122" width="12" height="9.4" fill="#d73027"/>
<rect x="100.7" y="122" width="5.3" height="15.5" fill="#d73027"/>
<rect x="100.7" y="137.5" width="5.3" height="12.5" fill="#f46d43"/>
<rect x="100.7" y="150" width="5.3" height="13" fill="#fdae61"/>
<rect x="100.7" y="163" width="5.3" height="11.8" fill="#fee090"/>
<rect x="100.7" y="174.8" width="5.3" height="9.4" fill="#e0f3f8"/>
<rect x="100.7" y="184.2" width="5.3" height="13.8" fill="#abd9e9"/>
<rect x="100.7" y="198" width="5.3" height="23.5" fill="#74add1"/>
<rect x="106" y="122" width="4.2" height="18.7" fill="#d73027"/>
<rect x="106" y="140.7" width="4.2" height="22.3" fill="#fdae61"/>
<rect x="106" y="163" width="4.2" height="11.8" fill="#fee090"/>
<rect x="106" y="174.8" width="4.2" height="9.4" fill="#e0f3f8"/>
<rect x="106" y="184.2" width="4.2" height="13.8" fill="#abd9e9"/>
<rect x="106" y="198" width="4.2" height="23.5" fill="#74add1"/>
<rect x="110.2" y="122" width="4.8" height="15.7" fill="#d73027"/>
<rect x="115" y="122" width="4.5" height="12.6" fill="#d73027"/>
<rect x="115" y="134.6" width="4.5" height="20.4" fill="#f46d43"/>
<rect x="115" y="155" width="4.5" height="10" fill="#fdae61"/>
<rect x="115" y="165" width="4.5" height="8" fill="#fee090"/>
<rect x="115" y="173" width="4.5" height="10" fill="#e0f3f8"/>
<rect x="115" y="183" width="4.5" height="11" fill="#abd9e9"/>
<rect x="115" y="194" width="4.5" height="21" fill="#74add1"/>
<rect x="115" y="215" width="4.5" height="6.5" fill="#4575b4"/>
<rect x="119.5" y="122" width="2.5" height="9.4" fill="#d73027"/>
<rect x="119.5" y="131.4" width="2.5" height="23.6" fill="#f46d43"/>
<rect x="119.5" y="155" width="2.5" height="10.5" fill="#fdae61"/>
<rect x="119.5" y="165.5" width="2.5" height="6.5" fill="#fee090"/>
<rect x="119.5" y="172" width="2.5" height="11" fill="#e0f3f8"/>
<rect x="119.5" y="183" width="2.5" height="16" fill="#abd9e9"/>
<rect x="119.5" y="199" width="2.5" height="22.5" fill="#74add1"/>
<rect x="122" y="122" width="2.5" height="33" fill="#f46d43"/>
<rect x="122" y="155" width="2.5" height="10.5" fill="#fdae61"/>
<rect x="122" y="165.5" width="2.5" height="6.5" fill="#fee090"/>
<rect x="122" y="172" width="2.5" height="11" fill="#e0f3f8"/>
<rect x="122" y="183" width="2.5" height="16" fill="#abd9e9"/>
<rect x="122" y="199" width="2.5" height="22.5" fill="#74add1"/>
<rect x="120" y="122" width="2" height="9.4" fill="#d73027"/>
<rect x="124.5" y="122" width="4.5" height="43.5" fill="#f46d43"/>
<rect x="124.5" y="165.5" width="4.5" height="6.5" fill="#fdae61"/>
<rect x="124.5" y="172" width="4.5" height="3.5" fill="#fee090"/>
<rect x="124.5" y="175.5" width="4.5" height="9.5" fill="#e0f3f8"/>
<rect x="124.5" y="185" width="4.5" height="9" fill="#abd9e9"/>
</g>
<g fill="none" stroke="#000" stroke-width=".5" stroke-opacity=".85" stroke-linejoin="round">
<path d="M129.5 168.7L131 168.7L132.5 168.7L134 168.6L135.5 168.5L137 168.4L138.5 168.3L140 168.1L141.5 167.8L143 167.5L144.5 167.2L146 166.9L147.5 166.6L149 166.3L150.5 166L152 165.7L153.5 165.4L155 165L156.5 164.7L158 164.4L159.5 164.1L161 163.8L162.5 163.5L164 163.2L165.5 162.9L167 162.6L168.5 162.3L170 162L171.5 161.7L173 161.4L174.5 161.1L176 160.8L177.5 160.5L179 160.2L180.5 159.7L182 159.4L183.5 159.6L185 158.9L186.5 157.7L188 158L189.5 158.6L191 157L192.5 155.7L194 156.7L195.5 156.8L197 154.8L198.5 154.2L200 155.3L201.5 154.6L203 152.6L204.5 152.9L206 154L207.5 152.5L209 150.6L210.5 151.7L212 152.5L213.5 150.6L215 149.6L216.5 150.8L218 150.7L219.5 148.9L221 148.7L222.5 149.8L224 149L225.5 147.1L227 147.6L228.5 148.7L230 146.8L231.5 144.9L233 145.7L234.5 145.7L236 143.1L237.5 141.2L239 141L240.5 138.9L242 134.4L243.5 131.2L245 129.3L245 131L247.6 122.2"/>
<path d="M129.5 170.3L131 170.4L132.5 170.4L134 170.5L135.5 170.5L137 170.5L138.5 170.4L140 170.3L141.5 170.1L143 169.9L144.5 169.7L146 169.5L147.5 169.3L149 169.1L150.5 168.9L152 168.7L153.5 168.5L155 168.2L156.5 168L158 167.8L159.5 167.6L161 167.4L162.5 167.2L164 167L165.5 166.8L167 166.6L168.5 166.4L170 166.2L171.5 166L173 165.8L174.5 165.5L176 165.3L177.5 165L179 164.7L180.5 164.4L182 164.1L183.5 163.8L185 163.5L186.5 163.2L188 162.9L189.5 162.5L191 162.2L192.5 162L194 161.7L195.5 161.2L197 161L198.5 161L200 160.4L201.5 159.6L203 159.8L204.5 159.8L206 158.7L207.5 158L209 158.5L210.5 158.2L212 157L213.5 156.8L215 157.3L216.5 156.7L218 155.6L219.5 156L221 156.5L222.5 155.3L224 154.3L225.5 154.8L227 154.8L228.5 153.6L230 152.9L231.5 153.3L233 152.7L234.5 151.2L236 150.8L237.5 150.6L239 148.9L240.5 146.5L242 145.1L243.5 143.4L245 140.2L246.5 137.4L248 136.1"/>
<path d="M129.5 172L131 172.1L132.5 172.2L134 172.3L135.5 172.4L137 172.5L138.5 172.5L140 172.5L141.5 172.4L143 172.3L144.5 172.2L146 172.1L147.5 172L149 171.9L150.5 171.8L152 171.7L153.5 171.6L155 171.4L156.5 171.3L158 171.2L159.5 171.1L161 171L162.5 170.9L164 170.8L165.5 170.7L167 170.6L168.5 170.5L170 170.4L171.5 170.2L173 170.1L174.5 170L176 169.8L177.5 169.5L179 169.3L180.5 169L182 168.7L183.5 168.5L185 168.2L186.5 167.9L188 167.7L189.5 167.5L191 167.3L192.5 167.1L194 167L195.5 166.8L197 166.6L198.5 166.4L200 166.3L201.5 166.1L203 165.7L204.5 165.3L206 165L207.5 164.6L209 164.2L210.5 163.9L212 163.5L213.5 163.2L215 162.9L216.5 162.8L218 162.6L219.5 162.4L221 162.1L222.5 161.8L224 161.4L225.5 161.1L227 160.7L228.5 160.4L230 159.8L231.5 159.4L233 159.4L234.5 159L236 158.1L237.5 157.8L239 157.7L240.5 156.3L242 154.2L243.5 153.7L245 153L246.5 150.6L248 148.9"/>
<path d="M129.5 173.6L131 173.8L132.5 174L134 174.2L135.5 174.4L137 174.5L138.5 174.7L140 174.7L141.5 174.8L143 174.7L144.5 174.7L146 174.7L147.5 174.7L149 174.7L150.5 174.7L152 174.7L153.5 174.7L155 174.6L156.5 174.6L158 174.6L159.5 174.6L161 174.6L162.5 174.6L164 174.6L165.5 174.6L167 174.6L168.5 174.5L170 174.5L171.5 174.5L173 174.5L174.5 174.4L176 174.2L177.5 174L179 173.8L180.5 173.6L182 173.3L183.5 173.1L185 172.9L186.5 172.7L188 172.5L189.5 172.4L191 172.3L192.5 172.3L194 172.3L195.5 172.2L197 172.2L198.5 172.2L200 172.2L201.5 172.1L203 171.8L204.5 171.4L206 171.1L207.5 170.7L209 170.4L210.5 170L212 169.7L213.5 169.3L215 169L216.5 169L218 169L219.5 168.8L221 168.5L222.5 168.2L224 167.8L225.5 167.5L227 167.1L228.5 166.9L230 166.7L231.5 166.1L233 165.8L234.5 166.2L236 166.1L237.5 165.4L239 165.3L240.5 165.8L242 165.1L243.5 163.8L245 164.1L246.5 164.6L248 163.1L249.5 162L251 162.5L252.5 162.5L254 161.2L255.5 160.6L257 161.2L258.5 160.8L260 159.5L261.5 159.5L263 160.1L264.5 159.2L266 157.9L267.5 158.4L269 158.9L270.5 157.6L272 156.7L273.5 157.3L275 157.3L276.5 156L278 155.6L279.5 156.3L281 155.7L282.5 154.3L284 154.4L285.5 154.9L287 153.8L288.5 152.3L290 152.8L291.5 153L293 151.6L294.5 150.7L296 151.2L297.5 151L299 149.6L300.5 149.2L302 149.8L303.5 149.1L305 147.7L306.5 147.9L308 148.4L309.5 147.1L311 145.8L312.5 146.3L314 146.4L315.5 145L317 144.1L318.5 144.5L320 144L321.5 142.3L323 141.8L324.5 141.8L326 140.4L327.5 138.2L329 137.5L330.5 136.9L332 134.1L333.5 131.4L335 129.4L336.5 127L338 123.4"/>
<path d="M129.5 176.7L131 176.8L132.5 176.9L134 177L135.5 177.1L137 177.2L138.5 177.2L140 177.2L141.5 177.2L143 177.2L144.5 177.2L146 177.2L147.5 177.2L149 177.1L150.5 177.1L152 177.1L153.5 177.1L155 177.1L156.5 177L158 177L159.5 177L161 177L162.5 177L164 177L165.5 176.9L167 176.9L168.5 176.9L170 176.9L171.5 176.9L173 176.8L174.5 176.8L176 176.7L177.5 176.5L179 176.3L180.5 176.2L182 176L183.5 175.8L185 175.7L186.5 175.5L188 175.4L189.5 175.3L191 175.3L192.5 175.3L194 175.2L195.5 175.2L197 175L198.5 174.9L200 174.8L201.5 174.7L203 174.4L204.5 174L206 173.7L207.5 173.4L209 173.1L210.5 172.9L212 172.6L213.5 172.4L215 172.1L216.5 172L218 171.9L219.5 171.6L221 171.3L222.5 171L224 170.6L225.5 170.3L227 170L228.5 169.7L230 169.5L231.5 169.3L233 169.1L234.5 168.9L236 168.8L237.5 168.5L239 168.3L240.5 168L242 167.6L243.5 167.3L245 166.9L246.5 166.6L248 166.2L249.5 165.9L251 165.5L252.5 165.2L254 164.8L255.5 164.4L257 164.1L258.5 163.7L260 163.4L261.5 163L263 162.7L264.5 162.4L266 162.2L267.5 162L269 161.7L270.5 161.3L272 161L273.5 160.6L275 160.2L276.5 159.8L278 159.4L279.5 158.9L281 158.5L282.5 158.1L284 157.7L285.5 157.2L287 156.8L288.5 156.4L290 155.9L291.5 155.5L293 155L294.5 154.6L296 154.1L297.5 153.7L299 153.3L300.5 152.9L302 152.5L303.5 152.1L305 151.7L306.5 151.3L308 150.9L309.5 150.5L311 150.1L312.5 149.7L314 149.3L315.5 149L317 148.6L318.5 148.2L320 147.8L321.5 147.3L323 146.8L324.5 146.2L326 145.4L327.5 144.6L329 143.6L330.5 142.4L332 141.1L333.5 139.6L335 137.5"/>
<path d="M129.5 178.6L131 179L132.5 179.3L134 179.5L135.5 179.7L137 179.8L138.5 179.8L140 179.9L141.5 179.9L143 179.8L144.5 179.8L146 179.7L147.5 179.7L149 179.6L150.5 179.4L152 179.3L153.5 179.2L155 179.1L156.5 179.1L158 179.1L159.5 179.1L161 179.1L162.5 179.3L164 179.4L165.5 179.5L167 179.3L168.5 179.2L170 179.1L171.5 179L173 178.9L174.5 178.9L176 178.8L177.5 178.8L179 178.7L180.5 178.6L182 178.5L183.5 178.5L185 178.4L186.5 178.3L188 178.2L189.5 178.2L191 178.2L192.5 178.2L194 178.1L195.5 178L197 177.8L198.5 177.6L200 177.5L201.5 177.3L203 177L204.5 176.7L206 176.4L207.5 176.1L209 175.9L210.5 175.7L212 175.6L213.5 175.5L215 175.2L216.5 175L218 174.7L219.5 174.5L221 174.1L222.5 173.8L224 173.4L225.5 173.1L227 172.8L228.5 172.6L230 172.5L231.5 172.3L233 172.1L234.5 171.9L236 171.6L237.5 171.3L239 171L240.5 170.7L242 170.4L243.5 170L245 169.7L246.5 169.4L248 169.3L249.5 169.1L251 168.8L252.5 168.4L254 168L255.5 167.7L257 167.3L258.5 167L260 166.7L261.5 166.3L263 166L264.5 165.8L266 165.7L267.5 165.6L269 165.3L270.5 164.9L272 164.5L273.5 164.1L275 163.7L276.5 163.2L278 162.7L279.5 162.1L281 161.6L282.5 161.1L284 160.7L285.5 160.3L287 159.9L288.5 159.5L290 159.1L291.5 158.7L293 158.2L294.5 157.8L296 157.4L297.5 157L299 156.5L300.5 156.1L302 155.7L303.5 155.3L305 154.9L306.5 154.5L308 154.2L309.5 153.8L311 153.5L312.5 153.2L314 152.9L315.5 152.7L317 152.5L318.5 152.3L320 152L321.5 151.8L323 151.5L324.5 151.1L326 150.7L327.5 150.2L329 149.5L330.5 148.8L332 147.9L333.5 147.2L335 145.9"/>
<path d="M129.5 180.9L131 181.4L132.5 181.8L134 182.1L135.5 182.3L137 182.4L138.5 182.4L140 182.4L141.5 182.4L143 182.4L144.5 182.3L146 182.3L147.5 182.2L149 182L150.5 181.8L152 181.7L153.5 181.5L155 181.3L156.5 181.3L158 181.3L159.5 181.3L161 181.4L162.5 181.6L164 181.8L165.5 181.9L167 181.7L168.5 181.5L170 181.3L171.5 181.3L173 181.2L174.5 181.1L176 181.1L177.5 181.1L179 181.1L180.5 181.1L182 181.1L183.5 181.1L185 181.1L186.5 181.1L188 181.1L189.5 181.1L191 181.1L192.5 181.1L194 181.1L195.5 180.9L197 180.6L198.5 180.4L200 180.1L201.5 179.8L203 179.5L204.5 179.3L206 179L207.5 178.7L209 178.6L210.5 178.6L212 178.6L213.5 178.5L215 178.3L216.5 178L218 177.6L219.5 177.3L221 176.9L222.5 176.6L224 176.2L225.5 175.9L227 175.6L228.5 175.5L230 175.5L231.5 175.4L233 175.2L234.5 174.8L236 174.5L237.5 174.1L239 173.8L240.5 173.4L242 173.1L243.5 172.7L245 172.4L246.5 172.3L248 172.3L249.5 172.2L251 172L252.5 171.7L254 171.3L255.5 171L257 170.6L258.5 170.3L260 169.9L261.5 169.6L263 169.3L264.5 169.2L266 169.2L267.5 169.1L269 168.9L270.5 168.5L272 168.1L273.5 167.7L275 167.1L276.5 166.6L278 166L279.5 165.3L281 164.7L282.5 164.2L284 163.8L285.5 163.4L287 163L288.5 162.6L290 162.2L291.5 161.9L293 161.5L294.5 161.1L296 160.6L297.5 160.2L299 159.8L300.5 159.4L302 158.9L303.5 158.5L305 158.2L306.5 157.8L308 157.4L309.5 157.1L311 156.9L312.5 156.7L314 156.5L315.5 156.4L317 156.3L318.5 156.3L320 156.3L321.5 156.3L323 156.2L324.5 156.1L326 156L327.5 155.8L329 155.5L330.5 155.2L332 154.8L333.5 154.3L335 154.2L336.5 154L338 153.2L339.5 152.6L341 152.8L342.5 152.6L344 151.5L345.5 150.7L347 151.1L348.5 151L350 149.5L351.5 148.5L353 149.3L354.5 149.3L356 147.4L357.5 146.4L359 147.4L360.5 147.4L362 145.5L363.5 144.6L365 145.6L366.5 145.7L368 143.9L369.5 143.2L371 144.3L372.5 144.5L374 142.9L375.5 142.1L377 143.2L378.5 143.4L380 141.6L381.5 140.8L383 141.8L384.5 141.8L386 139.8L387.5 138.8L389 139.6L390.5 139.5L392 137.4L393.5 136.2L395 137L396.5 136.8L398 134.8L399.5 133.7L401 134.6L402.5 134.5L404 132.7L405.5 131.9L407 133"/>
<path d="M129.5 182.3L131 183.1L132.5 183.8L134 184.3L135.5 184.8L137 185.1L138.5 185.3L140 185.4L141.5 185.6L143 185.5L144.5 185.5L146 185.4L147.5 185.3L149 185L150.5 184.8L152 184.6L153.5 184.3L155 184.1L156.5 184L158 184L159.5 184.1L161 184.1L162.5 184.4L164 184.7L165.5 184.9L167 184.6L168.5 184.3L170 184.1L171.5 184L173 183.9L174.5 183.8L176 183.8L177.5 183.8L179 183.8L180.5 183.8L182 183.9L183.5 183.9L185 183.9L186.5 183.9L188 183.9L189.5 183.9L191 183.9L192.5 183.8L194 183.8L195.5 183.6L197 183.4L198.5 183.1L200 182.9L201.5 182.6L203 182.4L204.5 182.1L206 181.9L207.5 181.6L209 181.4L210.5 181.4L212 181.3L213.5 181.2L215 180.9L216.5 180.6L218 180.3L219.5 180L221 179.6L222.5 179.3L224 179L225.5 178.7L227 178.4L228.5 178.2L230 178.1L231.5 178L233 177.7L234.5 177.4L236 177L237.5 176.7L239 176.3L240.5 176L242 175.6L243.5 175.3L245 175L246.5 174.8L248 174.7L249.5 174.5L251 174.3L252.5 174L254 173.6L255.5 173.3L257 173L258.5 172.6L260 172.3L261.5 172L263 171.7L264.5 171.5L266 171.4L267.5 171.2L269 171L270.5 170.6L272 170.2L273.5 169.8L275 169.3L276.5 168.8L278 168.3L279.5 167.7L281 167.2L282.5 166.7L284 166.3L285.5 165.9L287 165.5L288.5 165.1L290 164.7L291.5 164.4L293 164L294.5 163.6L296 163.2L297.5 162.8L299 162.4L300.5 162L302 161.6L303.5 161.2L305 160.8L306.5 160.4L308 160.1L309.5 159.8L311 159.5L312.5 159.2L314 159L315.5 158.8L317 158.7L318.5 158.6L320 158.4L321.5 158.3L323 158.2L324.5 158L326 157.8L327.5 157.5L329 157.2L330.5 156.9L332 156.5L333.5 156.1L335 155.8L336.5 155.4L338 155L339.5 154.6L341 154.2L342.5 153.8L344 153.4L345.5 153L347 152.5L348.5 152.1L350 151.6L351.5 151.1L353 150.5L354.5 150.1L356 149.9L357.5 149.2L359 148.5L360.5 148.3L362 148.2L363.5 147.4L365 146.4L366.5 146.4L368 146.6L369.5 145.7L371 144.7L372.5 144.9L374 145.3L375.5 144.3L377 143.1L378.5 143.4L380 143.8L381.5 142.6L383 141.4L384.5 141.6L386 141.8L387.5 140.6L389 139.2L390.5 139.2L392 139.4L393.5 138L395 136.5L396.5 136.5L398 136.7L399.5 135.3L401 133.9L402.5 134L404 134.3L405.5 133.2L407 132"/>
<path d="M129.5 183.7L131 184.8L132.5 185.7L134 186.5L135.5 187.2L137 187.8L138.5 188.1L140 188.4L141.5 188.7L143 188.7L144.5 188.6L146 188.5L147.5 188.4L149 188.1L150.5 187.8L152 187.5L153.5 187.1L155 186.8L156.5 186.6L158 186.7L159.5 186.8L161 186.9L162.5 187.2L164 187.6L165.5 187.9L167 187.5L168.5 187.1L170 186.8L171.5 186.7L173 186.6L174.5 186.5L176 186.4L177.5 186.5L179 186.5L180.5 186.6L182 186.6L183.5 186.7L185 186.7L186.5 186.7L188 186.7L189.5 186.7L191 186.6L192.5 186.6L194 186.5L195.5 186.3L197 186.1L198.5 185.9L200 185.7L201.5 185.5L203 185.2L204.5 185L206 184.7L207.5 184.5L209 184.3L210.5 184.1L212 184L213.5 183.8L215 183.5L216.5 183.2L218 182.9L219.5 182.7L221 182.4L222.5 182.1L224 181.8L225.5 181.5L227 181.2L228.5 181L230 180.8L231.5 180.6L233 180.3L234.5 179.9L236 179.6L237.5 179.3L239 178.9L240.5 178.6L242 178.2L243.5 177.9L245 177.6L246.5 177.3L248 177.1L249.5 176.8L251 176.6L252.5 176.2L254 175.9L255.5 175.6L257 175.3L258.5 175L260 174.6L261.5 174.3L263 174L264.5 173.8L266 173.6L267.5 173.4L269 173L270.5 172.7L272 172.3L273.5 171.9L275 171.5L276.5 171L278 170.6L279.5 170.1L281 169.6L282.5 169.2L284 168.8L285.5 168.4L287 168L288.5 167.6L290 167.3L291.5 166.9L293 166.5L294.5 166.1L296 165.7L297.5 165.3L299 164.9L300.5 164.5L302 164.2L303.5 163.8L305 163.4L306.5 163.1L308 162.7L309.5 162.4L311 162.1L312.5 161.8L314 161.5L315.5 161.3L317 161L318.5 160.8L320 160.6L321.5 160.3L323 160.1L324.5 159.8L326 159.5L327.5 159.2L329 158.9L330.5 158.6L332 158.2L333.5 157.8L335 157.4L336.5 157.1L338 156.7L339.5 156.3L341 155.9L342.5 155.5L344 155.1L345.5 154.7L347 154.2L348.5 153.8L350 153.3L351.5 152.9L353 152.4L354.5 151.9L356 151.5L357.5 151L359 150.6L360.5 150.1L362 149.6L363.5 149.2L365 148.7L366.5 148.2L368 147.7L369.5 147.2L371 146.8L372.5 146.3L374 145.8L375.5 145.3L377 144.9L378.5 144.4L380 143.9L381.5 143.4L383 142.9L384.5 142.4L386 141.9L387.5 141.3L389 140.7L390.5 140.1L392 139.4L393.5 138.7L395 138L396.5 137.3L398 136.6L399.5 135.9L401 135.2L402.5 134.5L404 133.9L405.5 133.4L407 133"/>
<path d="M129.5 185.1L131 186.4L132.5 187.7L134 188.6L135.5 189.7L137 190.4L138.5 191L140 191.5L141.5 191.8L143 191.8L144.5 191.8L146 191.7L147.5 191.5L149 191.1L150.5 190.7L152 190.3L153.5 190L155 189.6L156.5 189.3L158 189.4L159.5 189.5L161 189.6L162.5 190L164 190.5L165.5 190.9L167 190.4L168.5 189.9L170 189.6L171.5 189.4L173 189.3L174.5 189.1L176 189.1L177.5 189.2L179 189.3L180.5 189.3L182 189.4L183.5 189.5L185 189.6L186.5 189.6L188 189.5L189.5 189.5L191 189.4L192.5 189.3L194 189.2L195.5 189L197 188.9L198.5 188.7L200 188.5L201.5 188.3L203 188.1L204.5 187.8L206 187.6L207.5 187.4L209 187.1L210.5 186.9L212 186.6L213.5 186.4L215 186.1L216.5 185.9L218 185.6L219.5 185.3L221 185.1L222.5 184.8L224 184.5L225.5 184.3L227 184L228.5 183.7L230 183.4L231.5 183.1L233 182.8L234.5 182.5L236 182.2L237.5 181.8L239 181.5L240.5 181.1L242 180.8L243.5 180.5L245 180.1L246.5 179.8L248 179.5L249.5 179.1L251 178.8L252.5 178.5L254 178.2L255.5 177.9L257 177.6L258.5 177.3L260 177L261.5 176.7L263 176.4L264.5 176.1L266 175.8L267.5 175.5L269 175.1L270.5 174.8L272 174.4L273.5 174L275 173.7L276.5 173.3L278 172.9L279.5 172.5L281 172.1L282.5 171.7L284 171.3L285.5 170.9L287 170.5L288.5 170.1L290 169.8L291.5 169.4L293 169L294.5 168.6L296 168.2L297.5 167.9L299 167.5L300.5 167.1L302 166.8L303.5 166.4L305 166.1L306.5 165.7L308 165.4L309.5 165L311 164.7L312.5 164.3L314 164L315.5 163.7L317 163.4L318.5 163L320 162.7L321.5 162.4L323 162L324.5 161.7L326 161.3L327.5 161L329 160.6L330.5 160.2L332 159.8L333.5 159.5L335 159.1L336.5 158.7L338 158.3L339.5 158L341 157.6L342.5 157.2L344 156.8L345.5 156.4L347 156L348.5 155.5L350 155.1L351.5 154.6L353 154.2L354.5 153.8L356 153.3L357.5 152.8L359 152.4L360.5 151.9L362 151.4L363.5 150.9L365 150.4L366.5 149.9L368 149.3L369.5 148.8L371 148.2L372.5 147.6L374 147.1L375.5 146.5L377 145.9L378.5 145.4L380 144.8L381.5 144.3L383 143.8L384.5 143.2L386 142.6L387.5 142.1L389 141.5L390.5 140.9L392 140.2L393.5 139.5L395 138.8L396.5 138L398 137.3L399.5 136.5L401 135.7L402.5 135L404 134.3L405.5 133.7L407 133.3"/>
<path d="M129.5 190.7L131 192.5L132.5 194.2L134 195.5L135.5 196.8L137 197.7L138.5 198.2L140 198.7L141.5 199L143 198.9L144.5 198.6L146 198.3L147.5 197.9L149 197.2L150.5 196.6L152 196.1L153.5 195.6L155 195.1L156.5 194.8L158 194.9L159.5 195L161 195.1L162.5 195.6L164 196L165.5 196.5L167 195.8L168.5 194.9L170 194.4L171.5 194.2L173 194L174.5 193.8L176 193.8L177.5 193.9L179 194L180.5 194.1L182 194.2L183.5 194.3L185 194.4L186.5 194.4L188 194.5L189.5 194.5L191 194.4L192.5 194.2L194 194L195.5 193.7L197 193.4L198.5 193L200 192.7L201.5 192.4L203 192L204.5 191.6L206 191.4L207.5 191.2L209 191.1L210.5 190.9L212 190.8L213.5 190.6L215 190.4L216.5 190.2L218 190.1L219.5 189.9L221 189.7L222.5 189.5L224 189.4L225.5 189L227 188.6L228.5 188.3L230 187.9L231.5 187.5L233 187.1L234.5 186.7L236 186.3L237.5 185.9L239 185.7L240.5 185.4L242 185.2L243.5 185L245 184.8L246.5 184.5L248 184.3L249.5 184L251 183.6L252.5 183.2L254 182.9L255.5 182.5L257 182.2L258.5 181.8L260 181.5L261.5 181.1L263 180.9L264.5 180.7L266 180.5L267.5 180.2L269 179.8L270.5 179.3L272 178.9L273.5 178.5L275 178L276.5 177.5L278 177L279.5 176.4L281 176.1L282.5 175.7L284 175.3L285.5 174.9L287 174.6L288.5 174.2L290 173.8L291.5 173.5L293 173.1L294.5 172.8L296 172.4L297.5 172.1L299 171.7L300.5 171.4L302 171L303.5 170.7L305 170.3L306.5 169.9L308 169.6L309.5 169.2L311 168.9L312.5 168.5L314 168.1L315.5 167.7L317 167.4L318.5 167L320 166.6L321.5 166.3L323 165.9L324.5 165.5L326 165.1L327.5 164.7L329 164.3L330.5 163.9L332 163.5L333.5 163.1L335 162.7L336.5 162.3L338 161.9L339.5 161.5L341 161.1L342.5 160.7L344 160.3L345.5 159.8L347 159.3L348.5 158.9L350 158.4L351.5 157.9L353 157.4L354.5 156.9L356 156.5L357.5 156L359 155.5L360.5 155.1L362 154.6L363.5 154.1L365 153.6L366.5 153L368 152.5L369.5 151.9L371 151.3L372.5 150.7L374 150.1L375.5 149.5L377 148.9L378.5 148.3L380 147.7L381.5 147.1L383 146.5L384.5 145.8L386 145.2L387.5 144.5L389 143.8L390.5 143.1L392 142.4L393.5 141.7L395 140.9L396.5 140.1L398 139.4L399.5 138.6L401 137.8L402.5 137.1L404 136.4L405.5 135.9L407 135.4"/>
<path d="M129.5 196.2L131 198.6L132.5 200.7L134 202.3L135.5 203.9L137 205L138.5 205.5L140 205.9L141.5 206.3L143 205.9L144.5 205.4L146 204.9L147.5 204.3L149 203.3L150.5 202.4L152 201.8L153.5 201.3L155 200.7L156.5 200.3L158 200.4L159.5 200.5L161 200.5L162.5 201.1L164 201.6L165.5 202.1L167 201.1L168.5 199.9L170 199.3L171.5 199L173 198.7L174.5 198.5L176 198.5L177.5 198.6L179 198.8L180.5 198.9L182 199L183.5 199.2L185 199.3L186.5 199.3L188 199.4L189.5 199.4L191 199.4L192.5 199.2L194 198.7L195.5 198.3L197 197.9L198.5 197.4L200 197L201.5 196.4L203 195.9L204.5 195.5L206 195.2L207.5 195.1L209 195L210.5 195L212 194.9L213.5 194.8L215 194.7L216.5 194.6L218 194.5L219.5 194.4L221 194.4L222.5 194.3L224 194.2L225.5 193.7L227 193.3L228.5 192.8L230 192.3L231.5 191.9L233 191.4L234.5 190.9L236 190.4L237.5 189.9L239 189.8L240.5 189.7L242 189.6L243.5 189.5L245 189.4L246.5 189.3L248 189.2L249.5 188.8L251 188.4L252.5 187.9L254 187.6L255.5 187.2L257 186.8L258.5 186.4L260 186L261.5 185.6L263 185.5L264.5 185.4L266 185.3L267.5 184.8L269 184.4L270.5 183.9L272 183.4L273.5 182.9L275 182.3L276.5 181.7L278 181.1L279.5 180.4L281 180L282.5 179.7L284 179.3L285.5 178.9L287 178.6L288.5 178.3L290 177.9L291.5 177.6L293 177.3L294.5 176.9L296 176.6L297.5 176.3L299 176L300.5 175.6L302 175.3L303.5 174.9L305 174.6L306.5 174.2L308 173.8L309.5 173.4L311 173L312.5 172.6L314 172.2L315.5 171.8L317 171.4L318.5 171L320 170.6L321.5 170.2L323 169.7L324.5 169.3L326 168.9L327.5 168.5L329 168.1L330.5 167.6L332 167.2L333.5 166.8L335 166.4L336.5 165.9L338 165.5L339.5 165.1L341 164.6L342.5 164.2L344 163.7L345.5 163.2L347 162.7L348.5 162.2L350 161.7L351.5 161.2L353 160.7L354.5 160.1L356 159.6L357.5 159.2L359 158.7L360.5 158.2L362 157.7L363.5 157.2L365 156.7L366.5 156.2L368 155.6L369.5 155L371 154.5L372.5 153.8L374 153.2L375.5 152.6L377 151.9L378.5 151.3L380 150.6L381.5 149.9L383 149.2L384.5 148.5L386 147.7L387.5 147L389 146.2L390.5 145.4L392 144.6L393.5 143.8L395 143L396.5 142.2L398 141.5L399.5 140.7L401 139.9L402.5 139.2L404 138.6L405.5 138L407 137.5"/>
<path d="M129.5 202.6L131 205.3L132.5 207.7L134 209.5L135.5 211.2L137 212.4L138.5 212.7L140 213L141.5 213.3L143 212.8L144.5 212.1L146 211.4L147.5 210.6L149 209.4L150.5 208.2L152 207.6L153.5 207L155 206.4L156.5 205.9L158 206L159.5 206L161 206L162.5 206.6L164 207.1L165.5 207.7L167 206.4L168.5 204.9L170 204.1L171.5 203.8L173 203.4L174.5 203.2L176 203.2L177.5 203.3L179 203.5L180.5 203.7L182 203.8L183.5 204L185 204.1L186.5 204.2L188 204.3L189.5 204.4L191 204.4L192.5 204.1L194 203.5L195.5 202.9L197 202.4L198.5 201.8L200 201.2L201.5 200.5L203 199.9L204.5 199.3L206 199L207.5 199L209 199L210.5 199L212 199L213.5 199L215 199L216.5 199L218 199L219.5 199L221 199L222.5 199L224 199L225.5 198.4L227 197.9L228.5 197.3L230 196.8L231.5 196.2L233 195.7L234.5 195.1L236 194.6L237.5 194L239 194L240.5 194L242 194L243.5 194L245 194L246.5 194L248 194L249.5 193.6L251 193.1L252.5 192.7L254 192.2L255.5 191.8L257 191.3L258.5 190.9L260 190.4L261.5 190L263 190L264.5 190L266 190L267.5 189.5L269 189L270.5 188.5L272 187.9L273.5 187.3L275 186.6L276.5 185.9L278 185.2L279.5 184.4L281 184L282.5 183.7L284 183.3L285.5 183L287 182.6L288.5 182.3L290 182L291.5 181.7L293 181.4L294.5 181.1L296 180.8L297.5 180.5L299 180.2L300.5 179.9L302 179.6L303.5 179.2L305 178.8L306.5 178.4L308 178.1L309.5 177.6L311 177.2L312.5 176.8L314 176.3L315.5 175.8L317 175.4L318.5 174.9L320 174.5L321.5 174.1L323 173.6L324.5 173.2L326 172.7L327.5 172.2L329 171.8L330.5 171.3L332 170.9L333.5 170.4L335 170L336.5 169.5L338 169.1L339.5 168.6L341 168.2L342.5 167.7L344 167.2L345.5 166.7L347 166.1L348.5 165.6L350 165L351.5 164.4L353 163.9L354.5 163.3L356 162.8L357.5 162.3L359 161.8L360.5 161.3L362 160.8L363.5 160.4L365 159.8L366.5 159.3L368 158.8L369.5 158.2L371 157.6L372.5 156.9L374 156.3L375.5 155.6L377 154.9L378.5 154.2L380 153.5L381.5 152.7L383 151.9L384.5 151.1L386 150.3L387.5 149.4L389 148.6L390.5 147.7L392 146.8L393.5 146L395 145.2L396.5 144.3L398 143.6L399.5 142.8L401 142.1L402.5 141.4L404 140.7L405.5 140.1L407 139.6L408.5 139L410 138.5L411.5 138"/>
<path d="M285.1 122.2L284.1 132L282 139.7L279.9 138.3L277.8 143.2L275.7 141.8L273.6 145.3L271.5 144L268.7 148.1L267.3 145.3L265.2 148.8L263.1 147.4L259.6 150.9L256.1 151.6L254 153L248.4 155.1"/>
<path d="M319.9 122.2L318.2 129.2L316.1 134.8L313.3 140.4L310.8 140.4L309.4 143.9L307.3 143.2L305.2 146L303.1 144.6L301 147.4L298.9 145.3L296.8 148.1L294 145.3L291.9 148.1L288.7 148.1L284.6 148.8L281.5 152.3L277.3 149.5L274.2 152.3L270 153L263.8 154.4L259.6 155.1L253.4 156.5L243 157.9L236.4 159"/>
<path d="M336 135.3L337.4 134.8L338.8 134.4L340.2 134.1L341.6 133.4L343 132.5L344.4 132.3L345.8 132.4L347.2 131.8L348.6 130.7L350 130.2L351.4 130.5L352.8 130.5L354.2 129.5L355.6 128.6L357 129.2L358.4 129.8L359.8 129L361.2 128.2L362.6 128.4L364 129.2L365.4 129.4L366.8 128.5L368.2 128.1L369.6 128.9L371 129.7L372.4 128.9L373.8 128.1L375.2 128.5L376.6 129.4L378 129.2L379.4 128.4L380.8 128.1L382.2 128.8L383.6 129.3L385 128.4L386.4 127.5L387.8 128.2L389.2 128.9L390.6 128.5L392 127.6L393.4 127.5L394.8 128.3L396.2 128.6L397.6 127.7L399 126.9L400.4 127.7L401.8 128.4L403.2 127.8L404.6 126.9L406 127.1L407.4 127.9L408.8 127.9L410.2 127.2L411.6 126.9L413 127.3L414.4 127.6L415.8 127.2L417.2 127.1L418.6 127.1"/>
<path d="M336 141.7L337.4 141.4L338.8 141.2L340.2 140.6L341.6 139.9L343 140L344.4 140.3L345.8 139.4L347.2 138.3L348.6 138.4L350 139.1L351.4 138.5L352.8 137L354.2 136.7L355.6 137.5L357 137.5L358.4 136.1L359.8 135.1L361.2 136L362.6 136.7L364 135.3L365.4 134L366.8 134.7L368.2 135.6L369.6 134.8L371 133.5L372.4 133.7L373.8 134.7L375.2 134.5L376.6 133.3L378 132.8L379.4 133.7L380.8 134.1L382.2 132.7L383.6 131.5L385 132.4L386.4 133.3L387.8 132.1L389.2 130.8L390.6 131.2L392 132.1L393.4 131.6L394.8 130.3L396.2 130.1L397.6 131.1L399 131.2L400.4 129.9L401.8 129.1L403.2 130L404.6 130.8L406 129.5L407.4 128.3L408.8 129.1L410.2 129.7L411.6 129.1L413 128.3L414.4 128.4L415.8 128.5L417.2 128.3L418.6 128"/>
<path d="M420 127L423 127"/>
<path d="M198 122L196.5 128L194 133L188.8 136.5L183.2 140L177.7 142L172.1 145L166.5 149L160.9 153L156.7 155.5L152.6 159L149.8 160L147 162L140 164L136 169L133 164L129.5 158.5"/>
<path d="M148 122.2L145 126L141 129L138 131L136.5 135L136 139L133.5 136.5L131 134"/>
<path d="M333 134L337 127L340 122.2"/>
<path d="M143 217L145 214L155 212L165 210L168 212.5L171 210L185 209L207 205L229 200.5L255 195L275 191L295 186L315 181.5L335 176L350.4 170.7L370.9 162.5L383.2 157.8L391.3 156.4L399.5 157.4L404.6 162.5L407.7 170.7L409.3 181L410.8 187L413.8 189.5L420 188"/>
<path d="M185 217L207 211L229 206L255 201L275 197L295 193L315 188L335 184L346.4 181.3L360.7 180.3L368.9 181L374 185L378 192L381 198.3L387.3 203.4L399.5 206.5L411.8 207L420 204.8"/>
<path d="M233 217L245 214.5L258 212L269.6 209.5L285 206.5L300 204L316 202.5L328 202.8L334 205L340 211L345 217L348 221"/>
<path d="M411 137.6L415.2 140.4L417.3 146L418.7 153L420 157.2"/>
<path d="M425 151L433 151.4L441 153"/>
<path d="M425 167L433 168.4L441 171"/>
<path d="M425 190L433 191.4L441 194"/>
<path d="M425 205L433 205.4L441 207"/>
<g stroke-opacity=".5">
<path d="M425 129.3L433 129.6L441.5 129.8"/>
<path d="M425 130.2L433 130.5L441.5 130.7"/>
<path d="M425 131.1L433 131.4L441.5 131.6"/>
<path d="M425 132L433 132.3L441.5 132.5"/>
<path d="M425 132.9L433 133.2L441.5 133.4"/>
<path d="M406 129.5L413 128.3L420.5 128.6"/>
<path d="M406 131L413 129.6L420.5 129.1"/>
<path d="M406 132.5L413 130.8L420.5 129.6"/>
<path d="M406 134L413 132.1L420.5 130.1"/>
<path d="M406 135.5L413 133.3L420.5 130.6"/>
<path d="M406 137L413 134.6L420.5 131.1"/>
</g>
<path d="M425 136.5L431 137L433 140.5L435.5 137.2L438 137L441 139.5"/>
<path d="M428.3 122.2L428.8 126L430.5 128.2L436 128.8"/>
<path d="M436.3 122.2L436.6 126L438.5 127.6L441 128"/>
<path d="M41.2 139.2Q52 138.2 57.7 131"/>
<path d="M41.2 140.8Q52 139.8 57.7 134.8"/>
<path d="M41.2 142.4Q52 141.4 57.7 137.7"/>
<path d="M41.2 144Q52 143 57.7 140.6"/>
<path d="M41.2 145.6Q52 144.6 57.7 143"/>
<path d="M41.2 147.2C50 147.2 54 146.9 57.7 146.4"/>
<path d="M41.2 149C50 149 54 149.5 57.7 150.2"/>
<path d="M41.2 151C50 151 54 153.6 57.7 157.4"/>
<path d="M41.2 153.1C50 153.1 54 156.6 57.7 161.8"/>
<path d="M40.8 156.5C47 157.5 50 168.1 57.6 166.6"/>
<path d="M40.8 164.2C47 165.2 50 173 57.6 171.5"/>
<path d="M40.8 172C47 173 50 177.9 57.6 176.4"/>
<path d="M40.8 180.7C47 181.7 50 185.3 57.6 183.8"/>
<path d="M40.8 193.7C47 194.7 50 193.5 57.6 192"/>
<path d="M40.8 205.8C47 206.8 50 204.7 57.6 203.2"/>
<path d="M101.5 141L105.3 139.2"/>
<path d="M101.5 144.3L105.3 142.5"/>
<path d="M101.5 147.6L105.3 145.8"/>
<path d="M101.5 150.9L105.3 149.1"/>
<path d="M101.5 152L105.3 150.2"/>
<path d="M101.5 154.2L105.3 152.3"/>
<path d="M101.5 156.3L105.3 154.5"/>
<path d="M101.5 158.4L105.3 156.7"/>
<path d="M101.5 160.6L105.3 158.8"/>
<path d="M101.5 162.8L105.3 160.9"/>
<path d="M101.5 164.9L105.3 163.1"/>
<path d="M101.5 167L105.3 165.2"/>
<path d="M101.5 169.2L105.3 167.4"/>
<path d="M101.5 171.3L105.3 169.5"/>
<path d="M101.5 173.5L105.3 171.7"/>
<path d="M101.5 175.6L105.3 173.8"/>
<path d="M101.5 177.8L105.3 176"/>
<path d="M101.3 179.6L105.5 179.4"/>
<path d="M101.3 183L105.5 182.8"/>
<path d="M101.3 187.2L105.5 187"/>
<path d="M101.3 190.6L105.5 190.4"/>
<path d="M101.3 194.7L105.5 194.5"/>
<path d="M101.3 198.8L105.5 198.6"/>
<path d="M101.3 203L105.5 202.8"/>
<path d="M101.3 208.4L105.5 208.2"/>
<path d="M100.8 131.9L110 131.9"/>
<path d="M115.6 149.3L119.8 149.5"/>
<path d="M115.6 157L119.8 157.2"/>
<path d="M115.6 160.5L119.8 160.7"/>
<path d="M115.6 163L119.8 163.5"/>
<path d="M115.6 165L119.8 165.5"/>
<path d="M115.6 167.5L119.8 168"/>
<path d="M115.6 170L119.8 170.5"/>
<path d="M115.6 172.2L119.8 172.7"/>
<path d="M115.6 174.5L119.8 175"/>
<path d="M115.4 177L120 178.5"/>
<path d="M115.4 180.4L120 181.9"/>
<path d="M115.4 184.5L120 186"/>
<path d="M115.4 188.6L120 190.1"/>
<path d="M115.4 192.7L120 194.2"/>
<path d="M115.4 196.2L120 197.7"/>
<path d="M115.4 199.6L120 201.1"/>
<path d="M115.4 205.8L120 207.3"/>
<path d="M115.4 214.7L120 216.2"/>
<path d="M101 132.5L110 133.5L117 130.5L120 125.5L120.6 122.2"/>
<path d="M77.5 122.2L77 126L75.5 129.5L74 131"/>
<path d="M115.2 140.5L119.8 136.5"/>
</g>
<line x1="34" x2="487.4" y1="121.8" y2="121.8" stroke="#000" stroke-opacity=".28" stroke-width="1.2"/>
<line x1="34" x2="487.4" y1="153.4" y2="153.4" stroke="#000" stroke-opacity=".62" stroke-width=".7"/>
<line x1="34" x2="487.4" y1="184.9" y2="184.9" stroke="#000" stroke-opacity=".28" stroke-width="1.2"/>
<line x1="34" x2="487.4" y1="216.3" y2="216.3" stroke="#000" stroke-opacity=".62" stroke-width=".7"/>
<line x1="37" x2="40.3" y1="137.7" y2="137.7" stroke="#000" stroke-opacity=".6" stroke-width=".6"/>
<line x1="37" x2="40.3" y1="169.2" y2="169.2" stroke="#000" stroke-opacity=".6" stroke-width=".6"/>
<line x1="37" x2="40.3" y1="200.6" y2="200.6" stroke="#000" stroke-opacity=".6" stroke-width=".6"/>
<path d="M40.3 122V221.5" fill="none" stroke="#000" stroke-opacity=".3" stroke-width=".7"/>
<path d="M40.3 221.5H487.4M487.4 122V226.1" fill="none" stroke="#000" stroke-opacity=".62" stroke-width=".7"/>
<line x1="42.5" x2="42.5" y1="122" y2="224.1" stroke="#000" stroke-opacity=".62" stroke-width=".7"/>
<line x1="42.5" x2="42.5" y1="224.1" y2="226.3" stroke="#000" stroke-opacity=".32" stroke-width=".8"/>
<line x1="106.1" x2="106.1" y1="122" y2="224.1" stroke="#000" stroke-opacity=".62" stroke-width=".7"/>
<line x1="106.1" x2="106.1" y1="224.1" y2="226.3" stroke="#000" stroke-opacity=".32" stroke-width=".8"/>
<line x1="169.6" x2="169.6" y1="122" y2="224.1" stroke="#000" stroke-opacity=".62" stroke-width=".7"/>
<line x1="169.6" x2="169.6" y1="224.1" y2="226.3" stroke="#000" stroke-opacity=".32" stroke-width=".8"/>
<line x1="233.2" x2="233.2" y1="122" y2="224.1" stroke="#000" stroke-opacity=".62" stroke-width=".7"/>
<line x1="233.2" x2="233.2" y1="224.1" y2="226.3" stroke="#000" stroke-opacity=".32" stroke-width=".8"/>
<line x1="296.7" x2="296.7" y1="122" y2="224.1" stroke="#000" stroke-opacity=".62" stroke-width=".7"/>
<line x1="296.7" x2="296.7" y1="224.1" y2="226.3" stroke="#000" stroke-opacity=".32" stroke-width=".8"/>
<line x1="360.3" x2="360.3" y1="122" y2="224.1" stroke="#000" stroke-opacity=".62" stroke-width=".7"/>
<line x1="360.3" x2="360.3" y1="224.1" y2="226.3" stroke="#000" stroke-opacity=".32" stroke-width=".8"/>
<line x1="423.8" x2="423.8" y1="122" y2="224.1" stroke="#000" stroke-opacity=".62" stroke-width=".7"/>
<line x1="423.8" x2="423.8" y1="224.1" y2="226.3" stroke="#000" stroke-opacity=".32" stroke-width=".8"/>
<line x1="63.7" x2="63.7" y1="221.5" y2="224.5" stroke="#000" stroke-opacity=".6" stroke-width=".6"/>
<line x1="84.9" x2="84.9" y1="221.5" y2="224.5" stroke="#000" stroke-opacity=".6" stroke-width=".6"/>
<line x1="127.2" x2="127.2" y1="221.5" y2="224.5" stroke="#000" stroke-opacity=".6" stroke-width=".6"/>
<line x1="148.4" x2="148.4" y1="221.5" y2="224.5" stroke="#000" stroke-opacity=".6" stroke-width=".6"/>
<line x1="190.8" x2="190.8" y1="221.5" y2="224.5" stroke="#000" stroke-opacity=".6" stroke-width=".6"/>
<line x1="212" x2="212" y1="221.5" y2="224.5" stroke="#000" stroke-opacity=".6" stroke-width=".6"/>
<line x1="254.4" x2="254.4" y1="221.5" y2="224.5" stroke="#000" stroke-opacity=".6" stroke-width=".6"/>
<line x1="275.5" x2="275.5" y1="221.5" y2="224.5" stroke="#000" stroke-opacity=".6" stroke-width=".6"/>
<line x1="317.9" x2="317.9" y1="221.5" y2="224.5" stroke="#000" stroke-opacity=".6" stroke-width=".6"/>
<line x1="339.1" x2="339.1" y1="221.5" y2="224.5" stroke="#000" stroke-opacity=".6" stroke-width=".6"/>
<line x1="381.5" x2="381.5" y1="221.5" y2="224.5" stroke="#000" stroke-opacity=".6" stroke-width=".6"/>
<line x1="402.7" x2="402.7" y1="221.5" y2="224.5" stroke="#000" stroke-opacity=".6" stroke-width=".6"/>
<line x1="445" x2="445" y1="221.5" y2="224.5" stroke="#000" stroke-opacity=".6" stroke-width=".6"/>
<line x1="466.2" x2="466.2" y1="221.5" y2="224.5" stroke="#000" stroke-opacity=".6" stroke-width=".6"/>
<text transform="translate(32.5 125.6) scale(1 1.08)" text-anchor="end">0</text>
<text transform="translate(32.5 157) scale(1 1.08)" text-anchor="end">100</text>
<text transform="translate(32.5 188.5) scale(1 1.08)" text-anchor="end">200</text>
<text transform="translate(32.5 219.9) scale(1 1.08)" text-anchor="end">300</text>
<text transform="translate(16.4 123) rotate(-90) scale(1 1.08)" text-anchor="end">Depth</text>
<text transform="translate(4.8 205.2) scale(.96 1.1)" font-size="11.8">(b)</text>
<text transform="translate(42.5 233.4) scale(1 1.08)" text-anchor="middle">90</text>
<text transform="translate(106.1 233.4) scale(1 1.08)" text-anchor="middle">120</text>
<text transform="translate(169.6 233.4) scale(1 1.08)" text-anchor="middle">150</text>
<text transform="translate(233.2 233.4) scale(1 1.08)" text-anchor="middle">180</text>
<text transform="translate(296.7 233.4) scale(1 1.08)" text-anchor="middle">210</text>
<text transform="translate(360.3 233.4) scale(1 1.08)" text-anchor="middle">240</text>
<text transform="translate(423.8 233.4) scale(1 1.08)" text-anchor="middle">270</text>
<text transform="translate(487.4 233.4) scale(1 1.08)" text-anchor="middle">300</text>
<text transform="translate(434.6 242.8) scale(.985 1.1)">Longitude E</text>
<g shape-rendering="crispEdges">
<rect x="152" y="240.6" width="28.3" height="8" fill="#4575b4"/>
<rect x="179.9" y="240.6" width="28.3" height="8" fill="#74add1"/>
<rect x="207.9" y="240.6" width="28.3" height="8" fill="#abd9e9"/>
<rect x="235.9" y="240.6" width="28.3" height="8" fill="#e0f3f8"/>
<rect x="263.8" y="240.6" width="28.3" height="8" fill="#fee090"/>
<rect x="291.8" y="240.6" width="28.3" height="8" fill="#fdae61"/>
<rect x="319.7" y="240.6" width="28.3" height="8" fill="#f46d43"/>
<rect x="347.7" y="240.6" width="28" height="8" fill="#d73027"/>
</g>
<path d="M151.8 248.6V240.4H375.6" fill="none" stroke="#b5b5b5" stroke-width=".8"/>
<line x1="152" x2="152" y1="248.2" y2="252.2" stroke="#000" stroke-opacity=".6" stroke-width=".6"/>
<line x1="161.3" x2="161.3" y1="248.2" y2="252.2" stroke="#000" stroke-opacity=".6" stroke-width=".6"/>
<line x1="170.6" x2="170.6" y1="248.6" y2="255.4" stroke="#000" stroke-opacity=".35" stroke-width=".8"/>
<line x1="170.6" x2="170.6" y1="248.2" y2="252.2" stroke="#000" stroke-opacity=".6" stroke-width=".6"/>
<line x1="179.9" x2="179.9" y1="248.2" y2="252.2" stroke="#000" stroke-opacity=".6" stroke-width=".6"/>
<line x1="189.3" x2="189.3" y1="248.2" y2="252.2" stroke="#000" stroke-opacity=".6" stroke-width=".6"/>
<line x1="198.6" x2="198.6" y1="248.2" y2="252.2" stroke="#000" stroke-opacity=".6" stroke-width=".6"/>
<line x1="207.9" x2="207.9" y1="248.2" y2="252.2" stroke="#000" stroke-opacity=".6" stroke-width=".6"/>
<line x1="217.2" x2="217.2" y1="248.6" y2="255.4" stroke="#000" stroke-opacity=".35" stroke-width=".8"/>
<line x1="217.2" x2="217.2" y1="248.2" y2="252.2" stroke="#000" stroke-opacity=".6" stroke-width=".6"/>
<line x1="226.5" x2="226.5" y1="248.2" y2="252.2" stroke="#000" stroke-opacity=".6" stroke-width=".6"/>
<line x1="235.9" x2="235.9" y1="248.2" y2="252.2" stroke="#000" stroke-opacity=".6" stroke-width=".6"/>
<line x1="245.2" x2="245.2" y1="248.2" y2="252.2" stroke="#000" stroke-opacity=".6" stroke-width=".6"/>
<line x1="254.5" x2="254.5" y1="248.2" y2="252.2" stroke="#000" stroke-opacity=".6" stroke-width=".6"/>
<line x1="263.8" x2="263.8" y1="248.6" y2="255.4" stroke="#000" stroke-opacity=".35" stroke-width=".8"/>
<line x1="263.8" x2="263.8" y1="248.2" y2="252.2" stroke="#000" stroke-opacity=".6" stroke-width=".6"/>
<line x1="273.1" x2="273.1" y1="248.2" y2="252.2" stroke="#000" stroke-opacity=".6" stroke-width=".6"/>
<line x1="282.4" x2="282.4" y1="248.2" y2="252.2" stroke="#000" stroke-opacity=".6" stroke-width=".6"/>
<line x1="291.8" x2="291.8" y1="248.2" y2="252.2" stroke="#000" stroke-opacity=".6" stroke-width=".6"/>
<line x1="301.1" x2="301.1" y1="248.2" y2="252.2" stroke="#000" stroke-opacity=".6" stroke-width=".6"/>
<line x1="310.4" x2="310.4" y1="248.6" y2="255.4" stroke="#000" stroke-opacity=".35" stroke-width=".8"/>
<line x1="310.4" x2="310.4" y1="248.2" y2="252.2" stroke="#000" stroke-opacity=".6" stroke-width=".6"/>
<line x1="319.7" x2="319.7" y1="248.2" y2="252.2" stroke="#000" stroke-opacity=".6" stroke-width=".6"/>
<line x1="329" x2="329" y1="248.2" y2="252.2" stroke="#000" stroke-opacity=".6" stroke-width=".6"/>
<line x1="338.3" x2="338.3" y1="248.2" y2="252.2" stroke="#000" stroke-opacity=".6" stroke-width=".6"/>
<line x1="347.6" x2="347.6" y1="248.2" y2="252.2" stroke="#000" stroke-opacity=".6" stroke-width=".6"/>
<line x1="357" x2="357" y1="248.6" y2="255.4" stroke="#000" stroke-opacity=".35" stroke-width=".8"/>
<line x1="357" x2="357" y1="248.2" y2="252.2" stroke="#000" stroke-opacity=".6" stroke-width=".6"/>
<line x1="366.3" x2="366.3" y1="248.2" y2="252.2" stroke="#000" stroke-opacity=".6" stroke-width=".6"/>
<line x1="375.6" x2="375.6" y1="248.2" y2="252.2" stroke="#000" stroke-opacity=".6" stroke-width=".6"/>
<text x="170.6" y="262" text-anchor="middle" font-size="9">10</text>
<text x="217.2" y="262" text-anchor="middle" font-size="9">15</text>
<text x="263.8" y="262" text-anchor="middle" font-size="9">20</text>
<text x="310.4" y="262" text-anchor="middle" font-size="9">25</text>
<text x="357" y="262" text-anchor="middle" font-size="9">30</text>
<text x="380.2" y="248.8" font-size="9">°C</text>
<g shape-rendering="crispEdges">
<rect x="40.4" y="268" width="22.2" height="99.5" fill="#fee090"/>
<rect x="40.4" y="268" width="24.6" height="9" fill="#e0f3f8"/>
<rect x="40.4" y="277" width="22.2" height="10" fill="#e0f3f8"/>
<rect x="58" y="277" width="4" height="9" fill="#abd9e9"/>
<path d="M48.9 286.9H51H53.1H55.2H57.3H59.4H61.5V290V293.2V296.3V299.4V302.6H59.4H57.3V305.7V308.9V312H55.2V315.2H53.1V318.3V321.5H51V324.6H48.9H46.7H44.6V321.5V318.3V315.2H46.7V312V308.9V305.7H48.9V302.6H51V299.4H53.1H55.2V296.3V293.2H53.1H51H48.9V290V286.9Z" fill="#e0f3f8"/>
<rect x="72" y="268" width="12" height="9" fill="#e0f3f8"/>
<rect x="100.7" y="268" width="5.3" height="10" fill="#fee090"/>
<rect x="100.7" y="278" width="5.3" height="89.5" fill="#e0f3f8"/>
<rect x="106" y="268" width="4.4" height="15" fill="#fee090"/>
<rect x="106" y="283" width="4.4" height="84.5" fill="#e0f3f8"/>
<rect x="110.4" y="268" width="4.6" height="9" fill="#fee090"/>
<rect x="110.4" y="277" width="6.6" height="3" fill="#e0f3f8"/>
<rect x="110.4" y="280" width="4.6" height="3" fill="#fee090"/>
<rect x="115" y="268" width="14" height="36" fill="#fee090"/>
<rect x="115" y="280" width="2" height="3" fill="#fee090"/>
<rect x="115" y="304" width="9.5" height="63.5" fill="#e0f3f8"/>
<rect x="124.5" y="304" width="4.5" height="36" fill="#e0f3f8"/>
<rect x="125" y="315" width="4" height="3" fill="#abd9e9"/>
<rect x="129" y="268" width="317.6" height="99.5" fill="#fee090"/>
<path d="M129.2 305.7H131.3H133.5H135.6H137.7H139.8V302.6V299.4H141.9V296.3H144V299.4H146.2V302.6H148.3H150.4V305.7H152.5H154.6V308.9H156.7V312H158.8H161V315.2H163.1H165.2H167.3V318.3H169.4H171.5H173.6H175.8V321.5V318.3H177.9H180H182.1H184.2H186.3H188.5H190.6H192.7H194.8V321.5H196.9H199V324.6H201.1H203.3H205.4H207.5V327.8H209.6V330.9H211.7V334V337.2V340.3V343.5V346.6V349.8V352.9V356.1V359.2V362.4V365.5V368.6H209.6H207.5H205.4H203.3H201.1H199H196.9H194.8H192.7H190.6H188.5H186.3H184.2H182.1H180H177.9H175.8H173.6H171.5H169.4H167.3H165.2H163.1H161H158.8H156.7H154.6H152.5H150.4H148.3H146.2H144H141.9H139.8H137.7H135.6H133.5H131.3H129.2V365.5V362.4V359.2V356.1V352.9V349.8V346.6V343.5V340.3V337.2V334V330.9V327.8V324.6V321.5V318.3V315.2V312V308.9V305.7Z" fill="#e0f3f8"/>
<path d="M251.9 321.5V318.3V315.2V312H254V308.9V305.7H256.1V302.6H258.2V299.4H260.4H262.5H264.6H266.7H268.8H270.9H273.1H275.2H277.3H279.4H281.5H283.6H285.7H287.9H290H292.1H294.2H296.3V296.3V293.2V290V286.9V283.7V280.6V277.4V274.3V271.1V268H298.4H300.5H302.7H304.8H306.9H309H311.1H313.2H315.4H317.5H319.6H321.7H323.8H325.9H328H330.2H332.3H334.4H336.5H338.6H340.7H342.8H345H347.1H349.2H351.3H353.4H355.5H357.7H359.8H361.9H364H366.1H368.2H370.3H372.5H374.6H376.7H378.8H380.9H383H385.1H387.3H389.4H391.5H393.6H395.7H397.8H399.9H402.1H404.2H406.3H408.4H410.5H412.6H414.8H416.9H419H421.1H423.2V271.1V274.3V277.4H421.1V280.6H419H416.9V283.7H414.8H412.6V286.9H410.5H408.4V290H406.3H404.2H402.1V293.2H399.9H397.8V296.3H395.7H393.6H391.5H389.4V299.4H387.3H385.1H383V302.6H380.9H378.8H376.7H374.6V305.7H372.5H370.3H368.2V308.9H366.1H364H361.9V312H359.8H357.7H355.5H353.4V315.2H351.3H349.2H347.1H345V318.3H342.8H340.7V321.5H338.6H336.5H334.4H332.3H330.2H328V324.6H325.9H323.8H321.7H319.6H317.5H315.4H313.2V327.8H311.1H309H306.9H304.8H302.7H300.5V330.9H298.4H296.3H294.2H292.1H290H287.9H285.7H283.6H281.5H279.4H277.3H275.2H273.1H270.9H268.8V327.8H266.7H264.6H262.5H260.4H258.2H256.1H254V324.6H251.9V321.5Z" fill="#fdae61"/>
<rect x="266.5" y="294" width="2.1" height="5.5" fill="#fdae61"/>
<rect x="268.6" y="291" width="2.1" height="8.5" fill="#fdae61"/>
<rect x="272.8" y="290" width="2.1" height="9.5" fill="#fdae61"/>
<rect x="275" y="293" width="2.1" height="6.5" fill="#fdae61"/>
<rect x="279.2" y="295" width="2.1" height="4.5" fill="#fdae61"/>
<rect x="281.3" y="291" width="2.1" height="8.5" fill="#fdae61"/>
<rect x="285.5" y="290" width="2.1" height="9.5" fill="#fdae61"/>
<rect x="287.6" y="294" width="2.1" height="5.5" fill="#fdae61"/>
<rect x="291.9" y="293" width="2.1" height="6.5" fill="#fdae61"/>
<rect x="294" y="296" width="2.1" height="3.5" fill="#fdae61"/>
<path d="M306.9 280.6H309V277.4H311.1V280.6H313.2H315.4H317.5V283.7V286.9V290H315.4V293.2H313.2H311.1H309H306.9V290V286.9V283.7V280.6Z" fill="#fee090"/>
<path d="M319.6 283.7H321.7H323.8V280.6H325.9H328H330.2H332.3V277.4H334.4V280.6H336.5H338.6H340.7V283.7H342.8V286.9H340.7V290H338.6H336.5V293.2H334.4H332.3H330.2H328V296.3H325.9H323.8V293.2H321.7V290H319.6V286.9V283.7Z" fill="#fee090"/>
<path d="M260.4 308V306.4H262.5V304.8V303.2H264.6H266.7V301.6H268.8H270.9H273.1H275.2H277.3V300H279.4H281.5H283.6H285.7H287.9H290V301.6H292.1H294.2H296.3H298.4V303.2H300.5H302.7H304.8H306.9H309H311.1H313.2H315.4H317.5H319.6V304.8V306.4V308H317.5V309.6H315.4H313.2H311.1H309H306.9V311.2H304.8H302.7H300.5H298.4H296.3H294.2H292.1H290H287.9H285.7H283.6H281.5V312.8H279.4H277.3H275.2H273.1H270.9H268.8H266.7H264.6V311.2H262.5H260.4V309.6V308Z" fill="#f46d43"/>
<path d="M323.8 302.6H325.9H328V299.4H330.2H332.3H334.4H336.5H338.6V302.6V305.7H336.5H334.4V308.9H332.3H330.2H328H325.9H323.8V305.7V302.6Z" fill="#f46d43"/>
<path d="M342.8 302.6H345V299.4H347.1V296.3H349.2H351.3V293.2H353.4H355.5V290H357.7H359.8V286.9H361.9H364V283.7H366.1H368.2H370.3H372.5H374.6V280.6H376.7H378.8V277.4V274.3H380.9H383H385.1H387.3H389.4V271.1V268H391.5H393.6H395.7H397.8H399.9H402.1H404.2H406.3H408.4H410.5H412.6V271.1V274.3V277.4H410.5V280.6H408.4H406.3V283.7H404.2V286.9H402.1H399.9V290H397.8H395.7H393.6H391.5V293.2H389.4H387.3H385.1H383V296.3H380.9H378.8V299.4H376.7H374.6V302.6H372.5H370.3H368.2H366.1H364V305.7H361.9H359.8H357.7H355.5H353.4H351.3H349.2H347.1H345H342.8V302.6Z" fill="#f46d43"/>
<path d="M391.5 274.3H393.6H395.7H397.8H399.9H402.1H404.2H406.3H408.4V277.4H406.3V280.6H404.2V283.7H402.1H399.9H397.8H395.7H393.6H391.5V280.6V277.4V274.3Z" fill="#d73027"/>
<path d="M419 277.4H421.1H423.2V280.6V283.7V286.9V290V293.2H421.1H419H416.9V296.3V299.4V302.6V305.7H414.8V308.9H412.6V312H410.5V308.9V305.7H408.4V302.6H406.3V299.4H404.2V296.3H406.3V293.2H408.4H410.5H412.6V290H414.8H416.9V286.9H419V283.7V280.6V277.4Z" fill="#e0f3f8"/>
<rect x="414.6" y="277" width="5.4" height="3" fill="#e0f3f8"/>
<rect x="424.5" y="277.4" width="22.1" height="8.6" fill="#e0f3f8"/>
<path d="M425.3 293.2H427.4H429.6H431.7H433.8H435.9V290H438V293.2H440.1V296.3V299.4H442.2H440.1H438H435.9V296.3H433.8V299.4H431.7V302.6V305.7H429.6V302.6H427.4V299.4H425.3V302.6V299.4V296.3V293.2Z" fill="#e0f3f8"/>
<path d="M393.6 330.9V327.8H395.7V324.6V321.5H397.8H399.9V318.3H402.1H404.2H406.3V321.5H408.4H410.5V318.3H412.6H414.8H416.9V315.2V318.3H419V321.5V324.6V327.8H416.9H414.8V330.9H412.6H410.5V334H408.4H406.3V337.2H404.2H402.1V340.3H399.9H397.8V337.2H395.7H393.6V334V330.9Z" fill="#e0f3f8"/>
<rect x="401" y="340" width="2.2" height="4" fill="#e0f3f8"/>
<rect x="161.5" y="300" width="2.1" height="3.1" fill="#e0f3f8"/>
<rect x="163" y="306" width="2.1" height="3.1" fill="#e0f3f8"/>
<rect x="168" y="307.5" width="2.1" height="3.1" fill="#e0f3f8"/>
<rect x="181" y="309" width="2.1" height="3.1" fill="#e0f3f8"/>
<rect x="188" y="309.5" width="2.1" height="3.1" fill="#e0f3f8"/>
<rect x="201" y="295" width="2.1" height="3.1" fill="#e0f3f8"/>
<rect x="200" y="303" width="2.1" height="3.1" fill="#e0f3f8"/>
<rect x="209" y="309" width="2.1" height="3.1" fill="#e0f3f8"/>
<rect x="359" y="287" width="2.1" height="3.1" fill="#abd9e9"/>
</g>
<g fill="none" stroke="#000" stroke-width=".45" stroke-opacity=".8" stroke-linejoin="round">
<path d="M40.6 281L50 281L55 284L57 290L56 297L54 302L56 305L55 310L53 314L50 320L47 325.5L44.8 323L45.5 316L47 308L49 302L52 296L50 290L46 287.5L40.6 287"/>
<path d="M58 268.2L59.5 272L62 273L64 272"/>
<path d="M40.6 297L42.5 296L44.5 292"/>
<path d="M102 268.2L103 276L106 281"/>
<path d="M106.2 268.2L107 273L109.5 274.5L110.2 268.2"/>
<path d="M116 274L117.5 277L119 277.5"/>
<path d="M122 272L125 275.2L128 272.5L130 271"/>
<path d="M115.5 305L117.5 303L120 305"/>
<path d="M125 305L127 303.5L130 306"/>
<path d="M125 270L133 269.6L137 268.2"/>
<path d="M137 268.2L140 269L143 272L147 273L150 270L150.6 268.2"/>
<path d="M160 268.2L162 273L165 276L168 273L168.4 268.2"/>
<path d="M182 274L185 273L188 277L189 282L187.5 286L187 290L186 286L183.5 284L181.5 279Z"/>
<path d="M200.6 268.2L201 278L205 281L207 284L211 283L213 288L217 290L219 287L222 288.5L225 286"/>
<ellipse cx="136" cy="312" rx="1.1" ry="0.8" stroke-width=".35" transform="rotate(40 136 312)"/>
<ellipse cx="136" cy="312" rx="2.4" ry="1.8" stroke-width=".35" transform="rotate(40 136 312)"/>
<ellipse cx="136" cy="312" rx="3.7" ry="2.7" stroke-width=".35" transform="rotate(40 136 312)"/>
<path d="M130 304L133 305L138 307.5L141 311L141 315L145 322L151 325L156 324L156.5 321L153 320L149 322"/>
<path d="M129 320L133 326L133 331L129 333"/>
<path d="M140 305L141.5 297.5L145 301L151 305L157 309L158 313L165 316L175 320L183 317L193 319L197 323L205 324L208 328L211.5 333L212 350L212 363"/>
<ellipse cx="163" cy="309.6" rx=".8" ry="1.3"/>
<ellipse cx="168.5" cy="309.6" rx=".8" ry="1.3"/>
<ellipse cx="180" cy="309.6" rx=".8" ry="1.3"/>
<ellipse cx="188" cy="309.6" rx=".8" ry="1.3"/>
<ellipse cx="192" cy="309.6" rx=".8" ry="1.3"/>
<ellipse cx="196" cy="309.6" rx=".8" ry="1.3"/>
<ellipse cx="201.5" cy="309.6" rx=".8" ry="1.3"/>
<ellipse cx="208.5" cy="309.6" rx=".8" ry="1.3"/>
<path d="M191.6 298L191.6 301"/>
<path d="M201 294L201 299"/>
<path d="M208 297L208 300"/>
<path d="M216 306L216 308.5"/>
<path d="M220 299L220 301"/>
<path d="M220 284.5L222 290.2L224 285L226 290.7L228 285.5L230 291.2L232 285.9L234 291.7L236 286.4L238 292.2L240 286.9L242 292.6L244 287.4L246 293.1L248 287.9L250 293.6"/>
<path d="M233 290L234.5 285L238 284L241 288L242 294L240 300L236 299L233.5 295Z"/>
<path d="M247 292L248 284L252 279L256 278L260 282L261 288L258 290L257 296L254 293L251 296L248.5 295Z"/>
<path d="M222 305L224 309L223 311L221.5 308Z"/>
<path d="M238 307.5L240 306.5L241.5 308L240 309.5Z"/>
<path d="M243 308L244.5 307L245.5 309L244 310Z"/>
<path d="M246 313L248 311L250 313L248 316Z"/>
<path d="M268 268.2L269 280L270.2 291L271.5 278L273.5 292L275 284L276.5 294"/>
<path d="M292.5 268.2L293.5 282L295 298L296.3 284L297 268.2"/>
<g stroke-opacity=".55">
<path d="M259 298.3L260.5 292.9L261.9 302.6L263.2 293.1L264.1 299.5L265.4 294.1L266.9 300.1L267.8 291.1L269.4 299.5L270.6 295.3L271.5 301.3L273.1 290.2L274.4 302.9L275.4 292L276.9 301.9L278.1 289.5L279.3 300.7L280.6 290.3L282.1 302.6L283.2 291.5L284.3 301.3L285.4 291.9L286.6 301.5L288 289.9L289.6 300.4L291.1 289.7L292.3 302.6L293.6 289.4L294.4 300.2L295.8 289.9L297.3 304.3"/>
<path d="M265 303.2L266 296L266.9 307.3L268.3 297.5L269.4 306.8L270.2 293.5L271.3 306.3L272.4 292L273.4 304.5L274.3 292L275.4 305L276.7 296.1L277.8 305.1L279.1 296.4L280.3 306.6L281.8 290.2L283.1 304.2L284.2 295.2L285.5 303.7L286.7 289.8L287.7 306.7L288.7 293.2L290 306.7L291.3 288.8L292.3 305.1L293.1 292.3L294.3 306.7L295.7 289.1L296.6 306"/>
<path d="M270 296L271.4 287.1L273.1 299L274 289.6L275.6 299.6L276.8 286.9L278.5 299.4L279.6 288.7L281.2 299.2L282.2 290.2L283.9 298L284.9 285.7L286.1 299.3L287 285.4L288.3 296L289.3 285.4L290.7 298.9L292 286.1L293.2 298.5L295 292"/>
<path d="M298 292L300 289.5L302 292.5L304 290L305.5 293"/>
<path d="M318 283L319.5 286L318.5 290L320.5 293"/>
<path d="M343 292L344.7 283.3L346 294.9L347.7 280.8L349.4 290.9L350.6 278.2L351.6 294.5L352.5 280.8L353.5 291.6L354.8 277.1L356.2 291.9L357.4 280.8L358.4 289.9L359.6 278.1L360.7 292.8L362.4 275.9L363.7 289.1"/>
<path d="M345 295.2L346.6 288.2L348 296.5L349.7 286.4L350.8 296.5L352.9 284.7L354.2 295.7L356 284.5L357.2 296.6L359.3 282.3L360.9 291.9L363 284.3L364.7 294.6L366 280.2"/>
<path d="M364 295.7L364.8 281.2L366 294.4L366.8 279.5L368.2 294.6L369.2 279.9L370.1 295L371.3 276.2L372.4 293.4L373.4 279.9L374.5 294L375.9 274.4L377.2 290.6L378.5 277.2L379.7 292.6L380.5 277.1L381.5 288.2L382.8 276.9L384.3 289.9L385.3 279.6L386.2 286.9L387.5 275.1L388.6 289.9L389.6 278.5L390.9 286.8L391.7 273.8"/>
<path d="M366 296.8L367.1 281.9L368.8 294.8L370.4 280L372.2 295.3L373.1 285L374.4 295.5L375.8 278.6L376.8 292.1L377.8 277.9L378.8 295L379.8 280.7L380.8 291L382.4 283.2L383.7 289.1L385.5 276.3L386.8 290.5L388.5 281.1L390 288.8"/>
</g>
<path stroke-width="0.55" d="M380 289.7L381.3 275.7L382.1 287.1L383.1 274.7L384.4 286.3L385.6 274L386.8 285.5L387.8 272.7L388.7 287.7L389.6 275.8L390.7 284L391.9 272.1L393.2 283.2L394.4 272.4L395.3 286.1L396.4 274.3L397.6 282.4L398.9 275.2L399.7 283.5L400.6 274.4L401.3 282.9L402.6 274.2L403.3 283.6L404.2 274.4L405.2 280.6L406.5 274.2"/>
<path stroke-width="0.8" d="M389 284.9L389.7 274.3L390.3 283.4L391 274.7L391.8 282.3L392.3 275L393 282.6L394 274L394.8 282.8L395.5 274.9L396.5 281.6L397.4 276.2L398.2 283.3L399 274.9L399.9 281.2L400.8 274.1L401.8 281.2L402.5 274.6L403.5 281.7L404.2 274.3L405 281.9"/>
<path stroke-width="0.7" d="M391 283.5L392.2 275.7L393.1 282.3L394.3 277.6L395.7 281L396.4 276.1L397.5 281.5L398.2 276.5L399.5 281.6L400.8 277L402.1 279L403.4 275"/>
</g>
<g fill="none" stroke="#000" stroke-width=".45" stroke-opacity=".8" stroke-linejoin="round">
<path d="M251 320L253 312L255 306L258 301.5L262 299.5"/>
<path d="M251 320L254 325L259 328L265 329.5L275 330.5L295 330.5L305 329L315 326.5L325 324L335 322L341 320L347 316L355 313L365 309L375 304L385 300L395 296L403 291L409 288L415 284L420 280L424 277"/>
<path d="M254 321.6L259 323.9L265 326.2L275 326.7L295 326.5L305 326L315 322.4L325 321.1L335 317.9L341 316.8L347 312.8L355 309L365 306L375 300.1L385 296.8L395 292.3L403 287.9L409 283.9L415 280.6L420 277.1"/>
<path d="M261 320.4L267 322.9L277 322.9L297 323.6L307 321.5L317 320.1L327 316.8L337 314.7L343 312.8L349 309.5L357 305.5L367 302.1L377 297.4L387 292.4L397 289.4L405 283.7L411 281.6L417 276.5"/>
<path d="M220 319L226 323L232 327L240 331L246 330L252 338L258 344L266 342L272 344L280 342L290 342L296 340L310 338L315 335L321 332L328 331.5L335 330L340 327.5L345 324L350 323.5L355 321L361 320L367 313L375 308L385 303.5L395 298L402 294L409 290L416 285"/>
<path d="M296 301L299 303.2L310 304L320 303.2L320.6 306L317 309L306 310.8L296 311.6L282 312.3L268 313L262 311.2L259.4 308L263 304"/>
<path d="M323.6 303L328 300L338 300L339 303L338 306L332 309L324 308Z"/>
<path d="M307 282L310 279L316 280L317.5 286L316 293L311 294.5L307 291Z"/>
<path d="M320 285L324 280L333 279L340 281L343 286L340 291L333 293L327 296L321 293Z"/>
<path d="M310 268.2L311 274L315 277.5L320 276L322 268.2"/>
<path d="M329 268.2L330.5 273L335 276.5L339.5 274L340.5 268.2"/>
<path d="M420 277L423.4 278L423.4 292L418 294L417 302L413 312L410 308L408 302L405 300L405 295L410 292L416 290L419 282Z"/>
<path d="M394 332L395 324L399 319L404 318L408 322L412 318L417 316.4L419.6 321L418 327L412 332L406 337L400 340L395 337Z"/>
<path d="M425 292L433 292L437 291L440 296L442 301L439 299L435 297L431 305L427 300L425 303"/>
<path d="M425 281L429 279L434 280"/>
<path d="M425 284.5L431 283.5L436 283.5L437 290L439 284L442 283.5"/>
</g>
<path d="M425 275.4H441.5" stroke="#6b5a2a" stroke-width="2.2" stroke-opacity=".85" fill="none"/>
<line x1="34" x2="487.4" y1="267.8" y2="267.8" stroke="#000" stroke-opacity=".28" stroke-width="1.2"/>
<line x1="34" x2="487.4" y1="299.4" y2="299.4" stroke="#000" stroke-opacity=".62" stroke-width=".7"/>
<line x1="34" x2="487.4" y1="330.9" y2="330.9" stroke="#000" stroke-opacity=".28" stroke-width="1.2"/>
<line x1="34" x2="487.4" y1="362.4" y2="362.4" stroke="#000" stroke-opacity=".62" stroke-width=".7"/>
<line x1="37" x2="40.3" y1="283.7" y2="283.7" stroke="#000" stroke-opacity=".6" stroke-width=".6"/>
<line x1="37" x2="40.3" y1="315.2" y2="315.2" stroke="#000" stroke-opacity=".6" stroke-width=".6"/>
<line x1="37" x2="40.3" y1="346.6" y2="346.6" stroke="#000" stroke-opacity=".6" stroke-width=".6"/>
<path d="M40.3 268V367.5" fill="none" stroke="#000" stroke-opacity=".3" stroke-width=".7"/>
<path d="M40.3 367.5H487.4M487.4 268V372.1" fill="none" stroke="#000" stroke-opacity=".62" stroke-width=".7"/>
<line x1="42.5" x2="42.5" y1="268" y2="370.1" stroke="#000" stroke-opacity=".62" stroke-width=".7"/>
<line x1="42.5" x2="42.5" y1="370.1" y2="372.3" stroke="#000" stroke-opacity=".32" stroke-width=".8"/>
<line x1="106.1" x2="106.1" y1="268" y2="370.1" stroke="#000" stroke-opacity=".62" stroke-width=".7"/>
<line x1="106.1" x2="106.1" y1="370.1" y2="372.3" stroke="#000" stroke-opacity=".32" stroke-width=".8"/>
<line x1="169.6" x2="169.6" y1="268" y2="370.1" stroke="#000" stroke-opacity=".62" stroke-width=".7"/>
<line x1="169.6" x2="169.6" y1="370.1" y2="372.3" stroke="#000" stroke-opacity=".32" stroke-width=".8"/>
<line x1="233.2" x2="233.2" y1="268" y2="370.1" stroke="#000" stroke-opacity=".62" stroke-width=".7"/>
<line x1="233.2" x2="233.2" y1="370.1" y2="372.3" stroke="#000" stroke-opacity=".32" stroke-width=".8"/>
<line x1="296.7" x2="296.7" y1="268" y2="370.1" stroke="#000" stroke-opacity=".62" stroke-width=".7"/>
<line x1="296.7" x2="296.7" y1="370.1" y2="372.3" stroke="#000" stroke-opacity=".32" stroke-width=".8"/>
<line x1="360.3" x2="360.3" y1="268" y2="370.1" stroke="#000" stroke-opacity=".62" stroke-width=".7"/>
<line x1="360.3" x2="360.3" y1="370.1" y2="372.3" stroke="#000" stroke-opacity=".32" stroke-width=".8"/>
<line x1="423.8" x2="423.8" y1="268" y2="370.1" stroke="#000" stroke-opacity=".62" stroke-width=".7"/>
<line x1="423.8" x2="423.8" y1="370.1" y2="372.3" stroke="#000" stroke-opacity=".32" stroke-width=".8"/>
<line x1="63.7" x2="63.7" y1="367.5" y2="370.5" stroke="#000" stroke-opacity=".6" stroke-width=".6"/>
<line x1="84.9" x2="84.9" y1="367.5" y2="370.5" stroke="#000" stroke-opacity=".6" stroke-width=".6"/>
<line x1="127.2" x2="127.2" y1="367.5" y2="370.5" stroke="#000" stroke-opacity=".6" stroke-width=".6"/>
<line x1="148.4" x2="148.4" y1="367.5" y2="370.5" stroke="#000" stroke-opacity=".6" stroke-width=".6"/>
<line x1="190.8" x2="190.8" y1="367.5" y2="370.5" stroke="#000" stroke-opacity=".6" stroke-width=".6"/>
<line x1="212" x2="212" y1="367.5" y2="370.5" stroke="#000" stroke-opacity=".6" stroke-width=".6"/>
<line x1="254.4" x2="254.4" y1="367.5" y2="370.5" stroke="#000" stroke-opacity=".6" stroke-width=".6"/>
<line x1="275.5" x2="275.5" y1="367.5" y2="370.5" stroke="#000" stroke-opacity=".6" stroke-width=".6"/>
<line x1="317.9" x2="317.9" y1="367.5" y2="370.5" stroke="#000" stroke-opacity=".6" stroke-width=".6"/>
<line x1="339.1" x2="339.1" y1="367.5" y2="370.5" stroke="#000" stroke-opacity=".6" stroke-width=".6"/>
<line x1="381.5" x2="381.5" y1="367.5" y2="370.5" stroke="#000" stroke-opacity=".6" stroke-width=".6"/>
<line x1="402.7" x2="402.7" y1="367.5" y2="370.5" stroke="#000" stroke-opacity=".6" stroke-width=".6"/>
<line x1="445" x2="445" y1="367.5" y2="370.5" stroke="#000" stroke-opacity=".6" stroke-width=".6"/>
<line x1="466.2" x2="466.2" y1="367.5" y2="370.5" stroke="#000" stroke-opacity=".6" stroke-width=".6"/>
<text transform="translate(32.5 271.6) scale(1 1.08)" text-anchor="end">0</text>
<text transform="translate(32.5 303.1) scale(1 1.08)" text-anchor="end">100</text>
<text transform="translate(32.5 334.5) scale(1 1.08)" text-anchor="end">200</text>
<text transform="translate(32.5 366) scale(1 1.08)" text-anchor="end">300</text>
<text transform="translate(16.4 269) rotate(-90) scale(1 1.08)" text-anchor="end">Depth</text>
<text transform="translate(4.8 351.2) scale(.96 1.1)" font-size="11.8">(c)</text>
<text transform="translate(42.5 380.4) scale(1 1.08)" text-anchor="middle">90</text>
<text transform="translate(106.1 380.4) scale(1 1.08)" text-anchor="middle">120</text>
<text transform="translate(169.6 380.4) scale(1 1.08)" text-anchor="middle">150</text>
<text transform="translate(233.2 380.4) scale(1 1.08)" text-anchor="middle">180</text>
<text transform="translate(296.7 380.4) scale(1 1.08)" text-anchor="middle">210</text>
<text transform="translate(360.3 380.4) scale(1 1.08)" text-anchor="middle">240</text>
<text transform="translate(423.8 380.4) scale(1 1.08)" text-anchor="middle">270</text>
<text transform="translate(487.4 380.4) scale(1 1.08)" text-anchor="middle">300</text>
<g shape-rendering="crispEdges">
<rect x="152" y="386.8" width="28.3" height="7.8" fill="#4575b4"/>
<rect x="179.9" y="386.8" width="28.3" height="7.8" fill="#74add1"/>
<rect x="207.9" y="386.8" width="28.3" height="7.8" fill="#abd9e9"/>
<rect x="235.9" y="386.8" width="28.3" height="7.8" fill="#e0f3f8"/>
<rect x="263.8" y="386.8" width="28.3" height="7.8" fill="#fee090"/>
<rect x="291.8" y="386.8" width="28.3" height="7.8" fill="#fdae61"/>
<rect x="319.7" y="386.8" width="28.3" height="7.8" fill="#f46d43"/>
<rect x="347.7" y="386.8" width="28" height="7.8" fill="#d73027"/>
</g>
<path d="M151.8 394.6V386.6H375.6" fill="none" stroke="#b5b5b5" stroke-width=".8"/>
<line x1="152" x2="152" y1="394.6" y2="402.4" stroke="#000" stroke-opacity=".35" stroke-width=".8"/>
<line x1="152" x2="152" y1="394.2" y2="402.4" stroke="#000" stroke-opacity=".6" stroke-width=".6"/>
<line x1="166" x2="166" y1="394.2" y2="397.8" stroke="#000" stroke-opacity=".6" stroke-width=".6"/>
<line x1="179.9" x2="179.9" y1="394.2" y2="402.4" stroke="#000" stroke-opacity=".6" stroke-width=".6"/>
<line x1="193.9" x2="193.9" y1="394.2" y2="397.8" stroke="#000" stroke-opacity=".6" stroke-width=".6"/>
<line x1="207.9" x2="207.9" y1="394.6" y2="402.4" stroke="#000" stroke-opacity=".35" stroke-width=".8"/>
<line x1="207.9" x2="207.9" y1="394.2" y2="402.4" stroke="#000" stroke-opacity=".6" stroke-width=".6"/>
<line x1="221.9" x2="221.9" y1="394.2" y2="397.8" stroke="#000" stroke-opacity=".6" stroke-width=".6"/>
<line x1="235.9" x2="235.9" y1="394.2" y2="402.4" stroke="#000" stroke-opacity=".6" stroke-width=".6"/>
<line x1="249.8" x2="249.8" y1="394.2" y2="397.8" stroke="#000" stroke-opacity=".6" stroke-width=".6"/>
<line x1="263.8" x2="263.8" y1="394.6" y2="402.4" stroke="#000" stroke-opacity=".35" stroke-width=".8"/>
<line x1="263.8" x2="263.8" y1="394.2" y2="402.4" stroke="#000" stroke-opacity=".6" stroke-width=".6"/>
<line x1="277.8" x2="277.8" y1="394.2" y2="397.8" stroke="#000" stroke-opacity=".6" stroke-width=".6"/>
<line x1="291.8" x2="291.8" y1="394.2" y2="402.4" stroke="#000" stroke-opacity=".6" stroke-width=".6"/>
<line x1="305.7" x2="305.7" y1="394.2" y2="397.8" stroke="#000" stroke-opacity=".6" stroke-width=".6"/>
<line x1="319.7" x2="319.7" y1="394.6" y2="402.4" stroke="#000" stroke-opacity=".35" stroke-width=".8"/>
<line x1="319.7" x2="319.7" y1="394.2" y2="402.4" stroke="#000" stroke-opacity=".6" stroke-width=".6"/>
<line x1="333.7" x2="333.7" y1="394.2" y2="397.8" stroke="#000" stroke-opacity=".6" stroke-width=".6"/>
<line x1="347.7" x2="347.7" y1="394.2" y2="402.4" stroke="#000" stroke-opacity=".6" stroke-width=".6"/>
<line x1="361.6" x2="361.6" y1="394.2" y2="397.8" stroke="#000" stroke-opacity=".6" stroke-width=".6"/>
<line x1="375.6" x2="375.6" y1="394.6" y2="402.4" stroke="#000" stroke-opacity=".35" stroke-width=".8"/>
<line x1="375.6" x2="375.6" y1="394.2" y2="402.4" stroke="#000" stroke-opacity=".6" stroke-width=".6"/>
<text x="152" y="410.8" text-anchor="middle" font-family="'Liberation Mono', 'DejaVu Sans Mono', monospace" font-size="9.2">-2</text>
<text x="207.9" y="410.8" text-anchor="middle" font-family="'Liberation Mono', 'DejaVu Sans Mono', monospace" font-size="9.2">-1</text>
<text x="263.8" y="410.8" text-anchor="middle" font-family="'Liberation Mono', 'DejaVu Sans Mono', monospace" font-size="9.2">0</text>
<text x="319.7" y="410.8" text-anchor="middle" font-family="'Liberation Mono', 'DejaVu Sans Mono', monospace" font-size="9.2">1</text>
<text x="375.6" y="410.8" text-anchor="middle" font-family="'Liberation Mono', 'DejaVu Sans Mono', monospace" font-size="9.2">2</text>
<text x="380.2" y="394.8" font-size="9">°C</text>
</svg>
</body></html>
